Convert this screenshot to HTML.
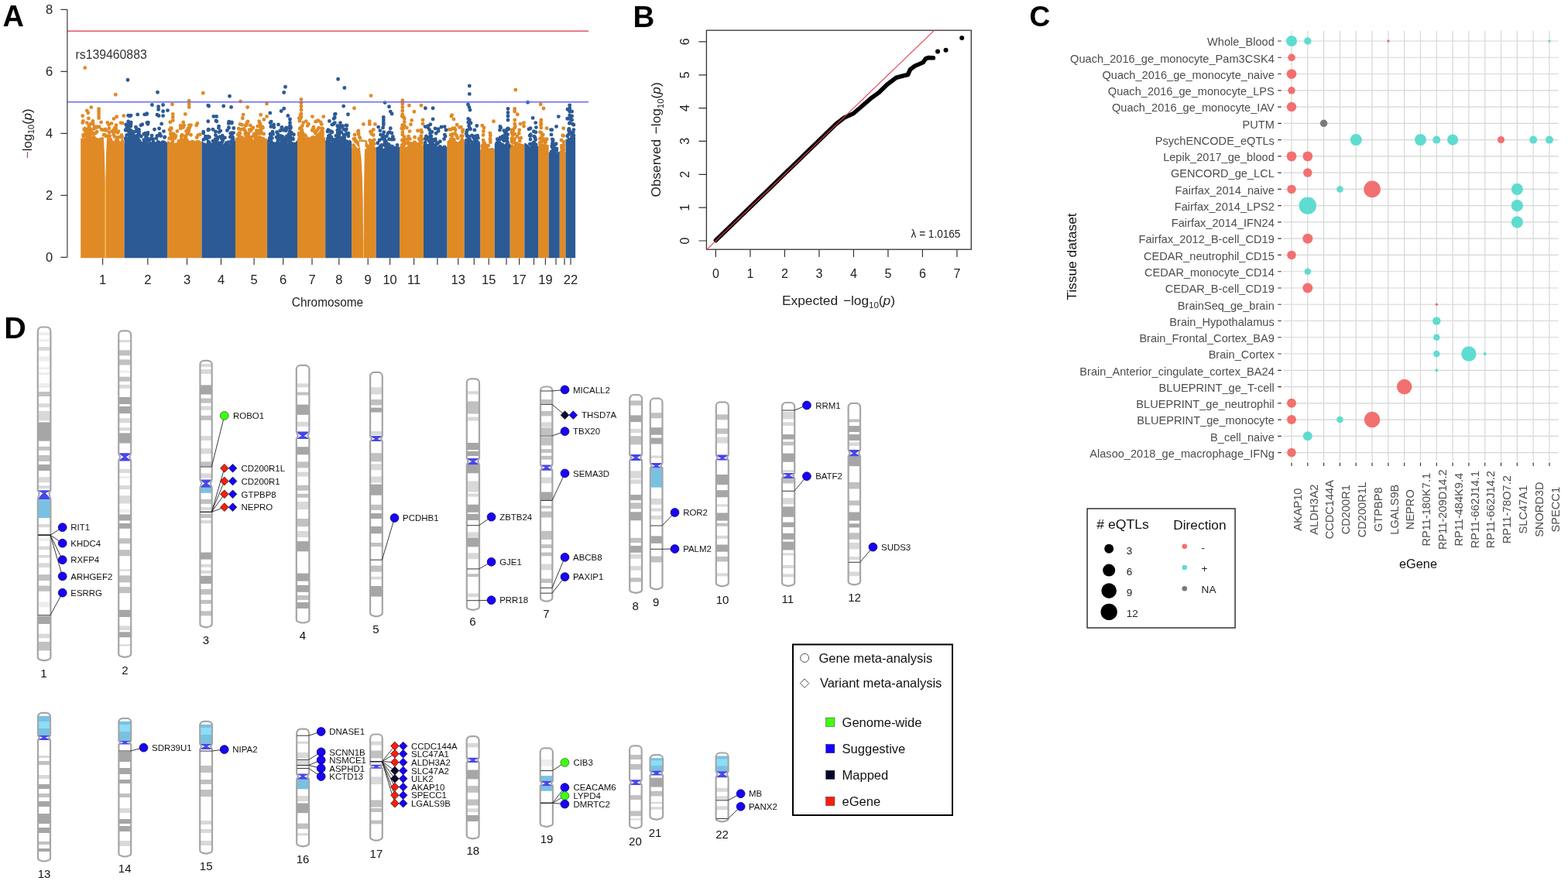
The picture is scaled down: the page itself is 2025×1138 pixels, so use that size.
<!DOCTYPE html>
<html><head><meta charset="utf-8"><style>
html,body{margin:0;padding:0;background:#fff;}
svg{display:block;}
text{font-family:"Liberation Sans",Arial,sans-serif;}
</style></head><body>
<svg width="2025" height="1138" viewBox="0 0 2025 1138">
<rect width="2025" height="1138" fill="#fff"/>
<path d="M104.2 333.3 L104.2 178.9 L106.8 177.9 L109.3 180.9 L111.9 177.4 L114.4 180.2 L117.0 179.2 L119.6 177.3 L122.1 180.0 L124.7 177.2 L127.2 179.6 L129.8 177.4 L132.3 177.5 L134.9 179.5 L137.5 182.0 L140.0 177.7 L142.6 178.3 L145.1 180.8 L147.7 182.7 L150.3 180.5 L152.8 179.4 L155.4 182.9 L157.9 177.3 L160.5 182.2 L160.5 333.3Z M216.1 333.3 L216.1 180.9 L218.7 183.1 L221.3 184.1 L223.9 185.6 L226.5 184.3 L229.2 183.9 L231.8 184.6 L234.4 182.7 L237.0 183.3 L239.6 180.2 L242.2 184.7 L244.8 181.4 L247.4 185.5 L250.1 183.9 L252.7 181.8 L255.3 180.8 L257.9 181.5 L260.5 183.8 L260.5 333.3Z M304.0 333.3 L304.0 178.4 L306.6 176.8 L309.1 176.3 L311.7 178.7 L314.3 175.5 L316.8 180.5 L319.4 175.9 L322.0 175.2 L324.6 175.6 L327.1 180.6 L329.7 177.1 L332.3 175.9 L334.8 175.2 L337.4 175.2 L340.0 179.2 L342.5 178.8 L345.1 179.2 L345.1 333.3Z M384.0 333.3 L384.0 178.8 L386.6 173.7 L389.2 178.7 L391.8 174.0 L394.3 177.8 L396.9 175.9 L399.5 177.7 L402.1 175.7 L404.7 174.6 L407.3 177.5 L409.9 175.0 L412.4 174.7 L415.0 176.7 L417.6 176.9 L420.2 177.8 L420.2 333.3Z M454.1 333.3 L454.1 190.1 L456.7 192.0 L459.4 189.1 L462.0 191.6 L464.6 190.1 L467.2 192.9 L469.9 191.1 L472.5 192.6 L475.1 189.5 L477.7 191.0 L480.4 187.8 L483.0 188.2 L485.6 190.7 L485.6 333.3Z M516.0 333.3 L516.0 189.6 L518.6 188.1 L521.2 184.9 L523.8 189.9 L526.3 189.0 L528.9 186.4 L531.5 185.2 L534.1 188.1 L536.7 184.1 L539.2 186.9 L541.8 184.3 L544.4 189.4 L547.0 185.8 L547.0 333.3Z M577.4 333.3 L577.4 182.5 L580.2 180.3 L583.0 183.8 L585.7 182.0 L588.5 183.0 L591.3 183.6 L594.0 181.5 L596.8 182.8 L599.6 180.1 L599.6 333.3Z M620.1 333.3 L620.1 193.4 L622.8 196.0 L625.4 190.4 L628.1 194.5 L630.8 192.2 L633.5 191.2 L636.1 191.0 L638.8 192.2 L638.8 333.3Z M658.6 333.3 L658.6 185.7 L661.3 187.9 L663.9 188.2 L666.6 185.2 L669.3 184.9 L672.0 185.1 L674.6 186.0 L677.3 186.4 L677.3 333.3Z M695.1 333.3 L695.1 186.0 L697.8 190.0 L700.5 185.1 L703.3 189.3 L706.0 186.4 L708.7 187.2 L708.7 333.3Z M722.7 333.3 L722.7 194.4 L725.3 195.0 L727.9 194.0 L730.5 197.2 L730.5 333.3Z" fill="#E08A25"/>
<path d="M160.5 333.3 L160.5 184.5 L163.0 183.9 L165.6 180.6 L168.1 179.9 L170.6 184.5 L173.1 182.4 L175.7 183.2 L178.2 179.5 L180.7 179.3 L183.2 183.1 L185.8 181.6 L188.3 179.4 L190.8 184.6 L193.4 182.8 L195.9 183.8 L198.4 179.5 L200.9 184.1 L203.5 179.4 L206.0 184.2 L208.5 181.7 L211.0 181.0 L213.6 182.3 L216.1 184.6 L216.1 333.3Z M260.5 333.3 L260.5 181.1 L263.1 184.3 L265.6 184.8 L268.2 186.5 L270.7 181.5 L273.3 184.7 L275.9 183.2 L278.4 184.0 L281.0 181.9 L283.5 182.7 L286.1 184.1 L288.6 186.6 L291.2 181.7 L293.8 183.9 L296.3 185.8 L298.9 186.8 L301.4 182.2 L304.0 181.8 L304.0 333.3Z M345.1 333.3 L345.1 181.5 L347.7 185.0 L350.3 183.6 L352.9 182.9 L355.5 183.7 L358.1 181.8 L360.7 183.7 L363.3 180.4 L365.8 183.2 L368.4 183.1 L371.0 184.9 L373.6 183.1 L376.2 181.9 L378.8 183.8 L381.4 183.8 L384.0 181.1 L384.0 333.3Z M420.2 333.3 L420.2 180.8 L422.8 184.9 L425.4 179.1 L428.0 183.8 L430.6 181.0 L433.2 179.8 L435.8 179.0 L438.5 184.0 L441.1 182.2 L443.7 180.1 L446.3 181.6 L448.9 184.5 L451.5 180.3 L454.1 182.4 L454.1 333.3Z M485.6 333.3 L485.6 192.3 L488.1 189.4 L490.7 189.2 L493.2 189.0 L495.7 192.2 L498.3 189.0 L500.8 190.9 L503.3 192.8 L505.9 189.5 L508.4 192.5 L510.9 190.3 L513.5 189.3 L516.0 189.8 L516.0 333.3Z M547.0 333.3 L547.0 185.7 L549.5 185.8 L552.1 190.5 L554.6 185.5 L557.1 190.9 L559.7 186.2 L562.2 185.7 L564.7 189.4 L567.3 187.1 L569.8 187.2 L572.3 190.0 L574.9 189.8 L577.4 189.4 L577.4 333.3Z M599.6 333.3 L599.6 180.7 L602.2 185.8 L604.7 180.1 L607.3 185.5 L609.9 180.9 L612.4 184.4 L615.0 180.6 L617.5 181.0 L620.1 184.1 L620.1 333.3Z M638.8 333.3 L638.8 185.3 L641.6 184.5 L644.5 188.9 L647.3 184.6 L650.1 184.5 L652.9 188.5 L655.8 187.4 L658.6 184.3 L658.6 333.3Z M677.3 333.3 L677.3 184.4 L679.8 185.5 L682.4 187.6 L684.9 189.9 L687.5 184.2 L690.0 187.7 L692.6 188.2 L695.1 188.9 L695.1 333.3Z M708.7 333.3 L708.7 196.8 L711.5 196.1 L714.3 194.3 L717.1 197.8 L719.9 196.3 L722.7 196.1 L722.7 333.3Z M730.5 333.3 L730.5 179.2 L733.0 180.4 L735.5 182.3 L738.1 177.5 L740.6 177.1 L743.1 180.1 L743.1 333.3Z" fill="#2C5A95"/>
<path d="M112.1 174.6h0M146.7 174.1h0M125.2 170.2h0M121.6 166.3h0M141.1 170.9h0M112.5 173.3h0M114.3 174.5h0M112.3 178.7h0M151.8 171.4h0M137.2 176.0h0M150.0 181.3h0M140.9 165.7h0M140.0 181.9h0M121.2 172.8h0M107.6 174.1h0M112.8 170.9h0M127.1 180.9h0M115.0 173.0h0M112.4 179.5h0M120.9 173.3h0M137.3 168.6h0M122.1 163.9h0M115.9 170.8h0M114.8 167.4h0M155.7 177.1h0M130.1 180.2h0M141.7 175.6h0M135.9 166.9h0M109.6 165.9h0M113.7 166.9h0M134.3 181.3h0M110.0 169.3h0M150.0 181.4h0M131.0 167.2h0M157.1 174.4h0M113.3 170.5h0M114.8 164.4h0M133.8 168.0h0M107.8 175.2h0M151.2 177.7h0M116.4 180.8h0M120.1 171.7h0M121.9 179.3h0M144.8 169.7h0M124.9 164.6h0M148.0 176.4h0M115.8 181.4h0M123.5 171.9h0M157.5 176.4h0M116.5 179.2h0M115.7 178.5h0M115.7 179.1h0M135.4 174.1h0M110.8 168.2h0M107.8 176.1h0M140.4 176.5h0M131.0 181.2h0M114.7 178.2h0M112.7 173.6h0M149.3 169.4h0M146.7 171.7h0M149.7 165.7h0M153.0 177.2h0M133.2 179.6h0M113.2 168.1h0M151.7 178.9h0M146.7 168.0h0M113.7 175.6h0M139.7 175.7h0M148.3 165.1h0M137.6 180.8h0M121.5 177.7h0M134.1 174.3h0M142.7 180.3h0M119.9 156.4h0M150.0 161.8h0M138.8 158.5h0M150.7 150.7h0M114.4 152.9h0M113.8 145.8h0M117.8 138.6h0M140.6 161.0h0M158.0 158.9h0M117.3 159.9h0M107.4 156.5h0M120.2 160.2h0M112.3 142.9h0M114.8 162.3h0M112.3 158.6h0M242.7 166.2h0M258.2 173.8h0M221.7 173.1h0M246.5 174.3h0M239.4 183.4h0M221.5 172.7h0M221.0 174.9h0M234.1 175.9h0M220.8 172.3h0M230.8 182.5h0M221.1 173.5h0M222.7 179.7h0M254.2 177.5h0M220.6 179.2h0M220.5 167.4h0M234.9 180.9h0M241.5 181.3h0M255.6 174.7h0M240.0 181.5h0M233.4 184.8h0M243.9 166.3h0M218.6 178.7h0M233.5 181.8h0M240.6 169.5h0M226.1 178.4h0M219.1 167.6h0M235.9 181.8h0M244.0 168.7h0M246.8 183.6h0M219.3 168.1h0M245.9 184.0h0M236.6 181.6h0M243.7 184.2h0M224.2 177.1h0M249.9 183.8h0M223.6 177.6h0M235.1 174.2h0M224.4 172.9h0M236.7 182.0h0M238.8 175.9h0M239.6 178.5h0M239.4 183.4h0M228.9 169.4h0M242.8 171.6h0M239.0 179.6h0M248.2 182.9h0M223.1 182.8h0M241.5 173.4h0M223.6 173.1h0M241.8 173.2h0M242.1 172.8h0M244.4 184.9h0M240.0 176.8h0M220.3 172.9h0M243.3 184.1h0M222.3 176.8h0M234.4 179.2h0M227.0 175.5h0M222.4 185.0h0M233.3 165.9h0M233.1 162.3h0M221.4 165.7h0M237.6 161.8h0M244.9 164.7h0M244.4 161.9h0M220.3 165.6h0M253.6 161.7h0M219.8 157.7h0M239.3 147.4h0M246.5 161.8h0M236.7 164.6h0M338.9 163.8h0M339.8 179.3h0M311.3 167.2h0M334.2 168.9h0M331.7 177.1h0M317.0 169.9h0M327.9 176.0h0M329.0 176.8h0M323.7 168.9h0M335.2 162.7h0M309.8 172.2h0M336.9 164.5h0M312.5 161.2h0M335.9 161.4h0M324.2 177.2h0M316.8 172.9h0M312.0 177.5h0M314.7 166.4h0M334.3 172.5h0M326.8 164.9h0M331.5 171.0h0M331.7 170.5h0M320.4 178.7h0M320.1 178.4h0M320.7 175.6h0M307.4 174.0h0M338.1 171.9h0M318.1 172.1h0M315.6 167.8h0M309.7 172.8h0M336.8 168.2h0M337.0 170.1h0M308.3 179.9h0M336.6 167.1h0M309.0 171.6h0M331.3 168.8h0M323.2 161.9h0M322.2 167.6h0M317.1 162.3h0M320.5 178.0h0M327.8 175.0h0M330.7 175.1h0M329.8 174.0h0M308.5 174.9h0M317.7 174.7h0M319.5 176.0h0M320.8 172.4h0M317.6 178.3h0M318.2 161.8h0M339.5 165.0h0M308.2 166.3h0M340.7 173.0h0M335.5 172.3h0M328.1 173.0h0M320.0 157.0h0M310.7 131.0h0M335.2 158.7h0M334.7 156.6h0M319.1 158.5h0M319.6 138.5h0M314.2 148.1h0M310.0 160.4h0M313.3 152.8h0M336.1 159.7h0M336.7 148.3h0M404.8 177.7h0M386.2 173.6h0M414.7 175.4h0M404.9 164.2h0M410.5 175.0h0M414.9 175.4h0M404.4 166.7h0M411.9 173.6h0M397.2 162.4h0M411.6 165.2h0M415.8 165.9h0M407.7 170.1h0M409.2 168.7h0M403.2 168.2h0M386.4 172.0h0M414.3 171.1h0M404.9 164.9h0M414.4 171.9h0M389.9 176.1h0M386.2 172.8h0M391.2 172.2h0M391.3 172.4h0M416.6 170.5h0M394.5 175.0h0M386.3 174.8h0M416.8 166.3h0M415.3 160.5h0M409.3 176.2h0M416.3 176.8h0M389.0 173.9h0M407.1 171.7h0M416.6 173.4h0M387.2 165.9h0M391.7 177.2h0M388.1 171.5h0M404.3 166.4h0M409.7 174.7h0M389.4 167.5h0M413.5 172.2h0M389.6 167.6h0M404.3 168.6h0M386.6 173.5h0M414.7 175.2h0M415.6 168.5h0M411.0 177.4h0M398.4 160.3h0M410.2 167.6h0M404.8 165.6h0M386.2 152.6h0M413.9 157.6h0M410.7 155.7h0M387.6 153.7h0M391.8 158.5h0M407.5 157.1h0M395.3 156.6h0M408.4 156.8h0M386.9 156.3h0M388.0 148.6h0M483.3 180.6h0M473.4 187.9h0M463.0 173.4h0M472.2 184.7h0M471.8 183.3h0M480.0 186.4h0M479.3 182.2h0M478.6 187.0h0M478.8 185.3h0M468.1 182.6h0M459.5 181.6h0M479.0 191.4h0M482.2 174.5h0M477.6 181.2h0M464.8 186.6h0M478.7 186.2h0M464.5 187.5h0M459.0 182.6h0M481.6 184.5h0M456.4 187.7h0M458.8 182.3h0M464.4 177.1h0M475.0 189.5h0M480.4 183.4h0M457.3 189.5h0M478.8 185.7h0M464.0 187.7h0M463.0 173.4h0M465.6 186.1h0M461.6 184.7h0M463.5 187.0h0M483.3 185.9h0M464.7 184.9h0M465.0 178.5h0M478.6 186.5h0M458.0 173.9h0M465.0 188.0h0M481.0 190.1h0M458.0 179.0h0M456.8 179.6h0M464.1 183.7h0M463.1 172.6h0M479.5 170.0h0M478.4 170.1h0M482.3 167.5h0M462.9 169.0h0M462.3 170.0h0M469.4 160.4h0M479.8 172.9h0M544.1 178.0h0M519.4 181.2h0M531.1 185.5h0M544.8 180.6h0M544.8 170.7h0M535.3 183.7h0M535.6 177.2h0M526.3 179.9h0M543.7 175.8h0M540.7 188.0h0M543.9 175.8h0M526.7 179.4h0M528.0 186.7h0M519.8 174.0h0M542.7 189.0h0M522.4 181.7h0M543.5 183.3h0M522.0 176.7h0M522.7 180.7h0M544.2 170.3h0M541.0 186.1h0M544.4 185.0h0M519.9 170.7h0M522.9 185.2h0M521.2 180.7h0M527.5 176.1h0M542.6 182.3h0M522.3 180.0h0M520.4 186.4h0M527.0 184.2h0M529.4 179.4h0M521.8 187.2h0M535.1 186.9h0M522.2 184.7h0M541.1 179.3h0M521.3 179.9h0M527.2 185.5h0M543.8 184.0h0M543.8 181.0h0M536.7 185.3h0M533.3 187.0h0M539.5 168.8h0M531.7 155.4h0M534.9 144.2h0M530.4 160.7h0M543.9 168.3h0M520.7 166.3h0M529.0 169.6h0M525.4 165.1h0M596.8 181.0h0M582.4 167.2h0M597.4 182.5h0M596.8 180.5h0M582.3 184.8h0M583.7 179.6h0M588.1 167.7h0M591.2 178.5h0M589.6 175.3h0M584.5 173.3h0M581.4 182.4h0M582.3 179.7h0M597.4 170.4h0M583.2 181.9h0M596.7 175.4h0M597.4 182.0h0M585.8 180.9h0M587.8 172.4h0M595.6 175.8h0M597.4 168.8h0M586.8 183.2h0M597.4 175.6h0M586.3 180.2h0M580.1 167.3h0M583.9 175.2h0M589.0 184.9h0M596.5 182.1h0M596.2 181.8h0M582.0 174.2h0M593.5 164.6h0M590.2 161.2h0M595.3 164.1h0M586.0 153.9h0M582.8 150.0h0M584.9 165.8h0M624.8 194.3h0M631.6 193.8h0M623.4 192.7h0M624.1 181.1h0M630.7 188.1h0M633.4 183.7h0M623.9 187.3h0M633.2 181.0h0M627.5 188.0h0M623.0 188.1h0M625.9 188.6h0M625.1 191.1h0M624.6 183.3h0M625.9 193.1h0M625.3 194.4h0M626.2 185.6h0M623.4 194.6h0M623.6 189.0h0M625.0 194.6h0M627.6 190.3h0M633.0 179.2h0M622.8 193.7h0M622.7 189.2h0M628.9 192.8h0M624.1 174.4h0M622.8 162.1h0M632.9 171.9h0M624.4 169.5h0M633.3 175.0h0M663.8 184.1h0M661.8 181.5h0M668.0 176.2h0M663.9 183.3h0M662.1 174.8h0M660.8 183.0h0M660.8 179.0h0M670.2 172.3h0M664.6 179.4h0M665.9 186.4h0M667.3 185.5h0M660.8 171.8h0M662.2 184.0h0M665.0 173.1h0M671.3 179.3h0M662.1 170.5h0M672.8 178.2h0M661.6 181.6h0M662.5 181.2h0M660.8 181.8h0M660.8 188.8h0M671.2 182.3h0M662.8 171.0h0M667.8 186.1h0M670.7 167.9h0M663.0 167.5h0M665.3 163.3h0M660.8 167.9h0M672.0 160.1h0M700.8 187.6h0M700.1 188.4h0M698.0 187.4h0M700.1 178.5h0M704.6 183.4h0M706.2 179.8h0M701.3 173.9h0M699.0 188.8h0M704.2 184.3h0M697.3 184.3h0M697.3 179.3h0M703.1 179.6h0M703.5 187.7h0M700.6 188.7h0M700.5 182.6h0M699.1 171.8h0M697.3 170.6h0M699.8 175.9h0M702.0 140.0h0M698.5 158.1h0M698.5 161.6h0M726.3 196.0h0M728.1 186.9h0M725.3 190.9h0M725.3 188.1h0M725.8 194.9h0M727.8 183.1h0M727.5 189.7h0M728.0 193.4h0M727.1 195.4h0M724.9 180.9h0M727.7 175.4h0M726.7 175.0h0M387.5 177.0h0M390.4 162.5h0M388.5 165.1h0M387.7 180.0h0M389.6 171.0h0M389.5 176.3h0M390.0 168.2h0M116.0 166.3h0M113.4 172.5h0M113.4 172.8h0M116.2 166.0h0M115.7 170.5h0M111.4 167.5h0M109.6 166.7h0M116.5 174.1h0M111.4 167.2h0M109.2 174.7h0M110.1 167.0h0M114.6 170.7h0M117.2 183.7h0M113.2 180.8h0M114.3 178.3h0M110.2 180.3h0M116.9 179.6h0M112.3 168.2h0M117.5 177.6h0M114.1 169.2h0M117.5 171.4h0M111.9 172.5h0M117.6 167.7h0M116.7 178.2h0M114.2 178.5h0M115.4 168.7h0M108.7 167.3h0M111.9 167.5h0M115.3 176.2h0M108.7 167.4h0M113.6 179.7h0M114.5 175.7h0M116.8 183.5h0M112.5 183.1h0M110.5 173.5h0M115.0 169.3h0M117.9 182.7h0M116.6 174.8h0M521.3 151.3h0M520.4 187.2h0M520.8 185.8h0M519.2 187.5h0M519.3 150.3h0M518.8 165.9h0M519.6 161.8h0M109.7 87.6h0M149.3 122.2h0M106.7 149.6h0M106.7 158.6h0M127.6 140.7h0M127.6 143.5h0M127.6 146.5h0M127.6 149.5h0M127.6 152.6h0M130.6 157.9h0M125.0 163.8h0M128.0 163.8h0M147.0 153.4h0M144.0 159.4h0M156.0 158.6h0M159.8 149.6h0M153.0 169.8h0M222.5 134.7h0M244.2 130.2h0M244.2 134.5h0M244.2 138.4h0M223.3 147.4h0M223.3 151.5h0M223.3 155.6h0M236.7 157.9h0M262.3 120.2h0M254.9 159.4h0M344.6 150.4h0M340.9 154.4h0M317.7 160.9h0M325.2 166.8h0M332.6 163.1h0M337.9 172.0h0M344.5 134.0h0M389.0 128.5h0M389.0 133.0h0M389.0 137.5h0M389.0 142.0h0M389.0 147.0h0M389.0 151.0h0M403.4 150.6h0M417.8 150.6h0M457.5 139.8h0M479.1 123.6h0M477.3 156.8h0M477.3 160.4h0M484.5 160.4h0M519.8 129.7h0M519.8 134.0h0M519.8 138.5h0M519.8 143.0h0M519.8 147.7h0M528.5 136.2h0M544.0 136.2h0M522.3 153.2h0M522.3 157.5h0M522.3 162.2h0M546.0 155.0h0M546.0 160.0h0M583.6 148.8h0M587.2 165.8h0M598.0 167.6h0M625.0 165.0h0M637.5 156.8h0M665.8 116.0h0M664.7 140.5h0M664.7 144.0h0M668.3 147.7h0M664.7 155.0h0M664.7 160.0h0M664.7 165.0h0M676.5 158.6h0M676.5 163.0h0M698.2 134.8h0M698.9 155.0h0M698.9 160.0h0M698.9 165.0h0M706.1 165.8h0M727.7 165.8h0" stroke="#E08A25" stroke-width="4.9" stroke-linecap="round" fill="none"/>
<path d="M190.4 178.7h0M173.2 175.8h0M176.6 181.3h0M164.6 166.2h0M212.8 176.9h0M176.7 175.6h0M205.4 174.9h0M197.9 183.8h0M166.6 182.4h0M169.9 183.9h0M205.6 166.0h0M207.7 175.5h0M172.3 179.4h0M167.0 179.7h0M169.9 172.5h0M212.5 177.5h0M190.9 171.5h0M188.6 176.7h0M169.1 180.9h0M166.2 167.1h0M190.4 178.7h0M168.6 182.6h0M193.2 180.7h0M188.0 172.9h0M170.1 181.6h0M189.0 175.5h0M188.6 182.8h0M191.8 181.4h0M170.2 178.0h0M197.7 179.7h0M178.1 183.5h0M175.3 177.6h0M194.8 179.5h0M162.9 181.2h0M188.5 177.3h0M166.1 180.3h0M176.9 180.6h0M170.0 183.7h0M182.3 176.3h0M202.0 178.6h0M166.7 170.0h0M170.2 169.6h0M187.6 183.6h0M167.5 179.4h0M167.8 180.8h0M190.8 173.4h0M176.2 166.1h0M204.7 183.6h0M187.5 183.1h0M178.2 169.8h0M211.5 169.6h0M188.7 182.5h0M174.5 182.6h0M164.0 165.4h0M185.8 173.2h0M189.2 173.8h0M190.2 181.8h0M168.5 173.0h0M172.1 174.8h0M166.6 183.0h0M206.4 172.8h0M170.2 172.2h0M171.1 173.5h0M202.9 175.5h0M163.1 183.2h0M199.5 167.3h0M185.8 180.6h0M177.4 167.3h0M169.2 176.2h0M187.6 172.3h0M196.1 175.1h0M173.6 170.4h0M168.7 176.7h0M190.9 160.2h0M164.4 163.3h0M189.9 158.5h0M189.6 147.5h0M183.8 160.7h0M182.0 161.7h0M191.4 158.2h0M169.0 149.1h0M189.6 146.8h0M167.8 149.9h0M163.8 164.7h0M208.6 159.9h0M162.7 161.0h0M205.0 149.5h0M175.4 164.1h0M287.0 183.6h0M299.7 173.1h0M284.8 169.1h0M268.8 176.3h0M276.6 183.5h0M300.1 181.3h0M263.0 180.3h0M287.2 175.3h0M299.1 176.4h0M269.7 167.4h0M280.9 177.8h0M294.7 183.8h0M278.4 169.9h0M282.9 170.6h0M298.9 171.6h0M275.0 182.1h0M298.8 184.6h0M293.4 168.5h0M298.8 173.0h0M281.9 185.4h0M269.2 183.1h0M265.3 176.1h0M268.9 184.6h0M262.7 171.9h0M298.7 173.3h0M299.2 173.1h0M279.1 185.1h0M297.7 172.5h0M267.2 179.2h0M276.8 184.3h0M285.4 184.4h0M298.2 183.2h0M280.6 179.9h0M299.0 182.4h0M299.4 174.3h0M301.2 180.1h0M274.9 167.2h0M300.6 177.3h0M301.5 171.6h0M278.2 179.8h0M299.2 176.2h0M298.9 176.4h0M268.9 168.0h0M290.4 177.9h0M301.7 184.3h0M278.4 174.5h0M279.0 180.2h0M286.2 179.0h0M269.2 167.1h0M297.3 177.1h0M300.3 180.5h0M270.4 177.2h0M287.8 181.0h0M298.8 172.6h0M278.6 182.2h0M283.8 176.6h0M262.7 170.3h0M269.6 137.0h0M279.0 155.9h0M295.8 157.1h0M299.4 157.9h0M298.6 138.4h0M301.8 165.5h0M295.6 165.2h0M282.4 165.3h0M299.3 159.0h0M288.7 137.0h0M295.5 157.4h0M279.8 156.7h0M352.6 173.2h0M372.5 181.6h0M374.3 169.8h0M369.1 166.0h0M369.4 168.8h0M357.5 170.8h0M374.4 171.3h0M351.4 178.4h0M370.4 182.6h0M376.2 171.1h0M365.6 180.4h0M372.3 177.6h0M359.0 177.6h0M378.5 179.8h0M357.0 177.3h0M347.5 181.8h0M366.7 179.3h0M360.2 175.3h0M349.9 178.9h0M348.3 178.4h0M379.4 173.8h0M364.9 176.4h0M348.5 180.1h0M359.0 182.1h0M369.1 182.8h0M362.4 175.4h0M375.8 173.0h0M361.2 176.8h0M349.6 176.6h0M359.0 173.5h0M350.6 184.0h0M350.0 182.5h0M349.0 173.2h0M358.9 180.8h0M348.8 182.8h0M368.6 178.7h0M367.9 179.5h0M368.3 179.3h0M361.8 168.8h0M347.8 182.3h0M363.5 177.7h0M364.2 166.2h0M367.3 182.8h0M365.3 181.6h0M361.8 179.7h0M370.3 166.0h0M352.0 170.2h0M366.2 168.3h0M378.2 178.7h0M369.9 179.6h0M370.1 176.2h0M350.7 162.8h0M353.8 164.6h0M371.9 149.5h0M350.2 157.1h0M363.2 143.5h0M369.9 164.9h0M375.5 164.3h0M349.9 163.5h0M364.1 164.5h0M349.9 163.5h0M427.6 180.3h0M427.6 169.7h0M440.9 171.0h0M423.9 167.8h0M434.4 180.1h0M444.0 182.2h0M422.9 182.8h0M448.1 172.5h0M447.4 166.9h0M439.4 182.1h0M444.0 174.2h0M445.1 181.0h0M439.4 182.6h0M427.8 176.9h0M438.3 166.3h0M429.0 170.8h0M444.8 177.6h0M423.0 183.0h0M430.1 181.8h0M436.1 172.0h0M446.6 167.2h0M442.0 178.1h0M425.6 169.3h0M438.4 171.7h0M443.5 181.6h0M433.9 175.4h0M437.9 174.9h0M445.3 173.9h0M444.5 180.0h0M439.1 183.8h0M443.7 177.0h0M450.0 172.2h0M426.0 174.4h0M424.4 175.6h0M423.0 169.8h0M445.3 183.2h0M446.3 182.4h0M423.4 178.9h0M443.6 166.8h0M424.6 177.0h0M426.1 179.0h0M446.3 168.4h0M449.9 175.7h0M448.5 182.9h0M430.5 180.3h0M430.9 160.2h0M428.9 161.1h0M433.2 147.2h0M442.4 162.8h0M443.7 137.1h0M446.9 161.9h0M448.0 162.3h0M431.1 153.2h0M425.4 156.4h0M494.1 177.6h0M500.2 185.6h0M508.5 180.0h0M498.9 191.4h0M487.8 184.8h0M487.8 192.0h0M499.2 191.9h0M498.3 184.9h0M493.9 187.5h0M494.8 174.6h0M491.6 174.0h0M505.9 188.9h0M496.9 187.2h0M495.7 179.0h0M490.1 181.0h0M498.2 182.2h0M499.9 186.7h0M510.2 191.2h0M492.9 187.5h0M496.9 183.2h0M506.0 180.2h0M497.0 186.7h0M496.5 179.6h0M498.3 186.4h0M496.7 178.2h0M502.2 186.7h0M502.5 179.7h0M501.3 191.0h0M502.8 191.1h0M497.1 186.1h0M513.1 187.5h0M493.4 179.4h0M507.3 176.4h0M498.0 188.5h0M495.1 176.5h0M498.8 191.1h0M507.0 189.7h0M499.6 175.5h0M498.9 184.9h0M491.1 188.7h0M495.3 160.9h0M495.7 170.7h0M494.6 164.9h0M488.7 164.1h0M501.1 171.9h0M505.9 171.9h0M503.1 170.8h0M490.9 168.6h0M558.5 182.5h0M558.4 180.2h0M552.1 178.0h0M563.2 172.3h0M560.6 187.1h0M551.1 178.4h0M556.7 187.8h0M555.7 190.0h0M556.2 181.8h0M554.4 182.5h0M550.0 187.8h0M564.4 185.7h0M552.9 188.3h0M551.2 179.7h0M555.4 176.5h0M562.3 179.8h0M573.6 179.5h0M562.4 182.0h0M550.4 175.9h0M556.3 178.7h0M556.0 183.8h0M574.1 189.9h0M549.5 188.3h0M565.7 184.8h0M555.6 187.2h0M549.2 179.3h0M568.4 182.8h0M558.3 183.5h0M549.2 188.4h0M562.3 188.6h0M575.1 176.1h0M560.7 181.1h0M556.9 175.9h0M555.8 183.8h0M574.3 174.1h0M549.2 184.1h0M556.5 186.9h0M549.2 187.8h0M555.6 172.4h0M556.3 177.9h0M549.2 163.6h0M566.1 169.2h0M574.2 163.6h0M555.8 160.8h0M552.7 162.8h0M554.7 167.8h0M566.1 166.8h0M558.0 170.5h0M613.3 183.4h0M602.3 172.9h0M612.9 167.9h0M605.5 176.5h0M603.3 168.3h0M602.8 170.1h0M617.4 178.1h0M602.8 181.4h0M603.6 175.2h0M616.6 175.1h0M602.4 181.3h0M604.1 184.5h0M603.2 176.1h0M607.6 166.8h0M612.3 178.4h0M612.9 184.8h0M613.4 176.0h0M606.7 181.7h0M614.7 183.6h0M605.6 177.7h0M613.0 181.2h0M615.1 180.3h0M603.6 183.8h0M606.6 180.3h0M611.1 177.3h0M609.4 175.0h0M607.9 182.6h0M615.8 162.5h0M605.9 158.4h0M607.0 158.1h0M605.4 158.4h0M608.0 158.9h0M641.8 184.7h0M654.0 187.3h0M652.0 175.9h0M643.9 182.3h0M642.3 179.7h0M645.6 179.9h0M651.5 178.3h0M652.9 177.3h0M649.1 176.3h0M655.4 184.1h0M643.2 188.1h0M653.5 172.4h0M650.8 180.2h0M646.0 177.7h0M645.5 185.0h0M650.1 180.9h0M647.9 187.3h0M652.5 174.7h0M653.5 181.6h0M651.0 181.7h0M651.4 178.1h0M653.3 176.3h0M653.9 176.2h0M649.9 177.4h0M651.6 175.1h0M652.5 172.1h0M645.5 167.9h0M645.9 163.4h0M650.9 168.7h0M656.1 166.0h0M654.3 168.6h0M691.8 170.8h0M685.0 180.1h0M685.0 175.4h0M689.8 176.2h0M688.7 184.9h0M685.3 186.1h0M686.2 186.0h0M689.6 183.8h0M685.3 173.6h0M684.2 175.3h0M688.5 185.5h0M688.6 187.7h0M690.7 186.3h0M685.3 186.6h0M691.2 178.2h0M686.6 188.3h0M690.5 177.0h0M687.0 187.3h0M692.0 187.5h0M688.0 186.2h0M692.1 186.6h0M684.3 186.1h0M691.6 180.5h0M692.4 164.6h0M685.1 165.8h0M683.0 166.7h0M689.3 169.7h0M718.8 194.2h0M714.2 180.7h0M715.7 192.5h0M716.5 196.6h0M714.4 192.7h0M712.7 188.7h0M713.4 187.3h0M712.2 195.8h0M718.9 191.9h0M713.9 183.1h0M715.4 190.6h0M718.1 185.7h0M713.2 190.2h0M713.3 180.0h0M716.3 187.2h0M713.4 185.1h0M715.7 193.6h0M714.9 194.4h0M712.7 167.7h0M712.0 173.9h0M718.5 163.4h0M740.2 170.7h0M740.2 176.1h0M733.0 175.3h0M736.7 171.1h0M740.6 175.2h0M732.9 175.9h0M734.5 168.6h0M734.9 172.6h0M734.9 166.5h0M740.9 174.9h0M734.6 180.2h0M739.3 181.5h0M740.9 167.6h0M738.3 177.9h0M735.5 168.9h0M740.9 178.7h0M732.7 153.3h0M740.9 161.2h0M739.6 160.2h0M168.3 158.7h0M167.9 175.8h0M162.1 168.3h0M165.3 182.2h0M167.1 179.7h0M166.3 174.2h0M167.0 174.4h0M164.5 168.3h0M162.8 179.4h0M167.5 170.2h0M162.2 178.7h0M168.2 167.9h0M168.9 168.6h0M169.1 172.1h0M162.7 167.8h0M164.5 184.0h0M169.8 182.6h0M166.2 165.3h0M165.1 168.3h0M167.3 185.2h0M163.5 166.1h0M168.5 173.1h0M168.2 179.0h0M163.3 184.0h0M165.5 162.0h0M162.9 179.1h0M166.3 158.8h0M168.5 186.2h0M162.7 180.6h0M163.6 174.6h0M169.3 182.9h0M164.7 174.2h0M165.7 180.3h0M169.2 158.2h0M163.6 168.3h0M169.0 160.8h0M169.0 185.4h0M165.5 174.6h0M169.4 177.9h0M169.3 180.1h0M166.6 178.9h0M168.9 162.9h0M167.2 183.0h0M169.9 178.8h0M165.8 183.5h0M166.8 161.4h0M166.0 169.1h0M167.6 181.2h0M169.1 158.1h0M166.5 179.6h0M163.8 179.4h0M178.6 171.1h0M179.6 170.2h0M176.0 175.8h0M177.6 185.8h0M179.8 182.3h0M176.2 177.7h0M178.3 174.7h0M176.2 175.8h0M177.9 186.1h0M179.0 184.5h0M176.4 169.0h0M178.1 178.9h0M177.3 176.7h0M179.8 174.0h0M179.5 167.5h0M176.1 179.6h0M372.3 175.2h0M374.5 181.4h0M374.1 179.1h0M374.6 176.6h0M373.8 178.1h0M374.2 165.6h0M372.7 173.7h0M375.3 165.6h0M374.8 179.9h0M374.7 186.5h0M374.5 162.3h0M374.1 178.3h0M435.9 168.0h0M439.9 186.6h0M435.9 168.8h0M437.0 169.4h0M438.0 176.4h0M437.2 166.8h0M435.9 163.1h0M438.9 181.2h0M436.6 171.6h0M440.4 185.1h0M438.4 167.3h0M439.3 180.8h0M435.9 162.5h0M435.8 180.2h0M438.9 165.4h0M440.1 182.0h0M435.8 177.5h0M437.0 168.4h0M605.5 157.8h0M605.7 179.8h0M604.8 157.9h0M605.6 162.8h0M606.4 182.1h0M604.7 153.4h0M736.8 173.2h0M735.4 159.2h0M734.6 166.8h0M737.0 152.0h0M735.3 153.1h0M736.3 152.2h0M735.4 159.4h0M657.3 189.4h0M655.6 173.7h0M655.0 166.8h0M656.7 166.8h0M655.0 178.5h0M657.1 188.4h0M655.0 182.4h0M165.0 103.3h0M203.5 119.3h0M196.4 135.5h0M210.6 135.5h0M204.6 137.7h0M204.6 141.4h0M165.7 149.3h0M177.7 147.9h0M186.7 147.9h0M203.0 148.2h0M210.6 143.7h0M210.6 149.6h0M216.5 142.6h0M165.7 157.0h0M268.8 136.2h0M275.9 150.4h0M279.6 150.4h0M268.8 156.8h0M296.5 124.2h0M282.6 163.1h0M295.3 159.4h0M295.3 164.6h0M348.8 145.9h0M368.5 112.3h0M366.7 119.5h0M366.7 140.2h0M374.5 154.0h0M374.5 158.5h0M374.5 163.0h0M349.0 158.6h0M353.6 160.9h0M359.5 160.9h0M363.7 164.6h0M436.6 102.3h0M444.9 113.5h0M432.3 147.7h0M432.3 152.0h0M432.3 158.6h0M449.5 147.7h0M439.5 158.6h0M439.5 163.0h0M497.1 132.6h0M502.5 137.7h0M504.3 144.1h0M506.1 147.0h0M495.3 151.4h0M495.3 155.0h0M495.3 158.6h0M504.3 165.8h0M549.4 139.8h0M559.1 139.8h0M559.1 153.9h0M553.0 165.0h0M562.0 166.0h0M570.0 164.0h0M576.0 168.0h0M606.3 111.0h0M606.3 121.4h0M604.5 135.0h0M606.0 138.5h0M607.0 142.0h0M606.3 155.0h0M606.3 160.0h0M606.3 165.0h0M646.7 165.0h0M656.0 140.5h0M656.0 145.5h0M656.0 150.0h0M656.0 155.0h0M681.6 132.3h0M688.1 152.4h0M691.7 158.6h0M721.3 150.6h0M711.5 167.6h0M733.0 141.3h0M735.7 135.9h0M735.7 140.0h0M735.7 144.0h0M735.7 149.0h0M735.7 153.5h0M735.7 158.6h0M738.6 144.0h0M738.6 150.0h0M738.6 155.0h0" stroke="#2C5A95" stroke-width="4.9" stroke-linecap="round" fill="none"/>
<path d="M133.9 178L138 178L137 200L136.8 214L136.4 234L135.8 234L135.3 214L135 200Z" fill="#fff"/>
<rect x="135.5" y="234" width="1.3" height="99.3" fill="#F3C860"/>
<path d="M463.8 183L471.6 183L470.8 200L470.2 230L469.9 260L469.7 311L469.1 311L468.7 260L467.9 230L466.6 205Z" fill="#fff"/>
<rect x="469" y="311" width="0.9" height="22.3" fill="#F3C860"/>
<line x1="87" y1="40.1" x2="760" y2="40.1" stroke="#D8343F" stroke-width="1.4"/>
<line x1="87" y1="131.8" x2="760" y2="131.8" stroke="#6A6AF8" stroke-width="1.6"/>
<path d="M86.9 12.3V332.3 M78.4 12.3H86.9 M78.4 92.3H86.9 M78.4 172.3H86.9 M78.4 252.3H86.9 M78.4 332.3H86.9" stroke="#3a3a3a" stroke-width="1.2" fill="none"/>
<text x="63.5" y="338.3" font-size="16.5" text-anchor="middle" fill="#222">0</text>
<text x="63.5" y="258.3" font-size="16.5" text-anchor="middle" fill="#222">2</text>
<text x="63.5" y="178.3" font-size="16.5" text-anchor="middle" fill="#222">4</text>
<text x="63.5" y="98.3" font-size="16.5" text-anchor="middle" fill="#222">6</text>
<text x="63.5" y="18.3" font-size="16.5" text-anchor="middle" fill="#222">8</text>
<path d="M132.6 333.6V342M190.8 333.6V342M241.5 333.6V342M285.5 333.6V342M328.1 333.6V342M365.7 333.6V342M403.0 333.6V342M437.8 333.6V342M475.2 333.6V342M503.6 333.6V342M534.6 333.6V342M564.9 333.6V342M591.7 333.6V342M612.3 333.6V342M631.2 333.6V342M654.0 333.6V342M670.6 333.6V342M689.5 333.6V342M704.4 333.6V342M718.0 333.6V342M729.0 333.6V342M737.0 333.6V342" stroke="#3a3a3a" stroke-width="1.2"/>
<text x="132.6" y="367" font-size="16.5" text-anchor="middle" fill="#222">1</text>
<text x="190.8" y="367" font-size="16.5" text-anchor="middle" fill="#222">2</text>
<text x="241.5" y="367" font-size="16.5" text-anchor="middle" fill="#222">3</text>
<text x="285.5" y="367" font-size="16.5" text-anchor="middle" fill="#222">4</text>
<text x="328.1" y="367" font-size="16.5" text-anchor="middle" fill="#222">5</text>
<text x="365.7" y="367" font-size="16.5" text-anchor="middle" fill="#222">6</text>
<text x="403.0" y="367" font-size="16.5" text-anchor="middle" fill="#222">7</text>
<text x="437.8" y="367" font-size="16.5" text-anchor="middle" fill="#222">8</text>
<text x="475.2" y="367" font-size="16.5" text-anchor="middle" fill="#222">9</text>
<text x="503.6" y="367" font-size="16.5" text-anchor="middle" fill="#222">10</text>
<text x="534.6" y="367" font-size="16.5" text-anchor="middle" fill="#222">11</text>
<text x="591.7" y="367" font-size="16.5" text-anchor="middle" fill="#222">13</text>
<text x="631.2" y="367" font-size="16.5" text-anchor="middle" fill="#222">15</text>
<text x="670.6" y="367" font-size="16.5" text-anchor="middle" fill="#222">17</text>
<text x="704.4" y="367" font-size="16.5" text-anchor="middle" fill="#222">19</text>
<text x="737.0" y="367" font-size="16.5" text-anchor="middle" fill="#222">22</text>
<text x="423" y="395.7" font-size="16.6" text-anchor="middle" fill="#222" textLength="92.3" lengthAdjust="spacingAndGlyphs">Chromosome</text>
<text x="97.5" y="76.4" font-size="15.8" fill="#333">rs139460883</text>
<text transform="translate(41.3,172.7) rotate(-90)" font-size="16.6" text-anchor="middle" fill="#222"><tspan fill="#9a4a6a">−</tspan>log<tspan font-size="11" dy="3">10</tspan><tspan dy="-3">(</tspan><tspan font-style="italic">p</tspan>)</text>
<text x="3.5" y="34" font-size="38" font-weight="bold" fill="#000">A</text>
<rect x="912.4" y="39.2" width="341.9" height="283" fill="none" stroke="#333" stroke-width="1.3"/>
<path d="M902.4 311.0H912.4M902.4 268.1H912.4M902.4 225.3H912.4M902.4 182.4H912.4M902.4 139.6H912.4M902.4 96.8H912.4M902.4 53.9H912.4" stroke="#333" stroke-width="1.2"/>
<text transform="translate(889.5,311.0) rotate(-90)" font-size="16" text-anchor="middle" fill="#222">0</text>
<text transform="translate(889.5,268.1) rotate(-90)" font-size="16" text-anchor="middle" fill="#222">1</text>
<text transform="translate(889.5,225.3) rotate(-90)" font-size="16" text-anchor="middle" fill="#222">2</text>
<text transform="translate(889.5,182.4) rotate(-90)" font-size="16" text-anchor="middle" fill="#222">3</text>
<text transform="translate(889.5,139.6) rotate(-90)" font-size="16" text-anchor="middle" fill="#222">4</text>
<text transform="translate(889.5,96.8) rotate(-90)" font-size="16" text-anchor="middle" fill="#222">5</text>
<text transform="translate(889.5,53.9) rotate(-90)" font-size="16" text-anchor="middle" fill="#222">6</text>
<path d="M924.4 322.2V332M968.9 322.2V332M1013.4 322.2V332M1057.9 322.2V332M1102.4 322.2V332M1146.9 322.2V332M1191.4 322.2V332M1235.9 322.2V332" stroke="#333" stroke-width="1.2"/>
<text x="924.4" y="358.5" font-size="16" text-anchor="middle" fill="#222">0</text>
<text x="968.9" y="358.5" font-size="16" text-anchor="middle" fill="#222">1</text>
<text x="1013.4" y="358.5" font-size="16" text-anchor="middle" fill="#222">2</text>
<text x="1057.9" y="358.5" font-size="16" text-anchor="middle" fill="#222">3</text>
<text x="1102.4" y="358.5" font-size="16" text-anchor="middle" fill="#222">4</text>
<text x="1146.9" y="358.5" font-size="16" text-anchor="middle" fill="#222">5</text>
<text x="1191.4" y="358.5" font-size="16" text-anchor="middle" fill="#222">6</text>
<text x="1235.9" y="358.5" font-size="16" text-anchor="middle" fill="#222">7</text>
<polyline points="924.4,310.6 1000.0,237.4 1079.9,159.9 1090.3,152.0 1102.3,146.5 1112.7,137.5 1124.7,127.1 1135.1,119.6 1145.6,109.2 1157.5,100.2 1168.0,97.5 1172.5,96.5 1175.5,89.7 1181.4,85.3 1191.9,80.8 1195.6,75.6 1199.4,74.5 1205.3,74.8" fill="none" stroke="#000" stroke-width="5.6" stroke-linecap="round" stroke-linejoin="round"/>
<circle cx="1211.0" cy="66.6" r="3"/>
<circle cx="1221.5" cy="64.8" r="3"/>
<circle cx="1242.2" cy="49.1" r="3"/>
<line x1="912.4" y1="322.56" x2="1206.67" y2="39.2" stroke="#E0404A" stroke-width="1.1"/>
<text x="1176.6" y="307" font-size="14" fill="#222" textLength="63.8" lengthAdjust="spacingAndGlyphs">λ = 1.0165</text>
<text x="1083" y="394.2" font-size="17.3" text-anchor="middle" fill="#222">Expected <tspan dx="2">−log</tspan><tspan font-size="11.5" dy="3.5">10</tspan><tspan dy="-3.5">(</tspan><tspan font-style="italic">p</tspan>)</text>
<text transform="translate(853.2,180.4) rotate(-90)" font-size="17.2" text-anchor="middle" fill="#222">Observed <tspan dx="2">−log</tspan><tspan font-size="11.5" dy="3.5">10</tspan><tspan dy="-3.5">(</tspan><tspan font-style="italic">p</tspan>)</text>
<text x="817.5" y="34.5" font-size="38.5" font-weight="bold" fill="#000">B</text>
<path d="M1668.00 39.8V595.5M1688.81 39.8V595.5M1709.62 39.8V595.5M1730.43 39.8V595.5M1751.24 39.8V595.5M1772.05 39.8V595.5M1792.86 39.8V595.5M1813.67 39.8V595.5M1834.48 39.8V595.5M1855.29 39.8V595.5M1876.10 39.8V595.5M1896.91 39.8V595.5M1917.72 39.8V595.5M1938.53 39.8V595.5M1959.34 39.8V595.5M1980.15 39.8V595.5M2000.96 39.8V595.5M1657.5 53.00H2012.7M1657.5 74.27H2012.7M1657.5 95.53H2012.7M1657.5 116.80H2012.7M1657.5 138.06H2012.7M1657.5 159.32H2012.7M1657.5 180.59H2012.7M1657.5 201.86H2012.7M1657.5 223.12H2012.7M1657.5 244.38H2012.7M1657.5 265.65H2012.7M1657.5 286.92H2012.7M1657.5 308.18H2012.7M1657.5 329.44H2012.7M1657.5 350.71H2012.7M1657.5 371.98H2012.7M1657.5 393.24H2012.7M1657.5 414.50H2012.7M1657.5 435.77H2012.7M1657.5 457.04H2012.7M1657.5 478.30H2012.7M1657.5 499.56H2012.7M1657.5 520.83H2012.7M1657.5 542.10H2012.7M1657.5 563.36H2012.7M1657.5 584.62H2012.7" stroke="#D6D6D6" stroke-width="1.15" fill="none"/>
<path d="M1650.2 53.00H1654.8M1650.2 74.27H1654.8M1650.2 95.53H1654.8M1650.2 116.80H1654.8M1650.2 138.06H1654.8M1650.2 159.32H1654.8M1650.2 180.59H1654.8M1650.2 201.86H1654.8M1650.2 223.12H1654.8M1650.2 244.38H1654.8M1650.2 265.65H1654.8M1650.2 286.92H1654.8M1650.2 308.18H1654.8M1650.2 329.44H1654.8M1650.2 350.71H1654.8M1650.2 371.98H1654.8M1650.2 393.24H1654.8M1650.2 414.50H1654.8M1650.2 435.77H1654.8M1650.2 457.04H1654.8M1650.2 478.30H1654.8M1650.2 499.56H1654.8M1650.2 520.83H1654.8M1650.2 542.10H1654.8M1650.2 563.36H1654.8M1650.2 584.62H1654.8" stroke="#333" stroke-width="1.15"/>
<path d="M1668.00 597.6V602M1688.81 597.6V602M1709.62 597.6V602M1730.43 597.6V602M1751.24 597.6V602M1772.05 597.6V602M1792.86 597.6V602M1813.67 597.6V602M1834.48 597.6V602M1855.29 597.6V602M1876.10 597.6V602M1896.91 597.6V602M1917.72 597.6V602M1938.53 597.6V602M1959.34 597.6V602M1980.15 597.6V602M2000.96 597.6V602" stroke="#333" stroke-width="1.15"/>
<text x="1645.8" y="59.30" font-size="14.6" text-anchor="end" fill="#4D4D4D">Whole_Blood</text>
<text x="1645.8" y="80.56" font-size="14.6" text-anchor="end" fill="#4D4D4D">Quach_2016_ge_monocyte_Pam3CSK4</text>
<text x="1645.8" y="101.83" font-size="14.6" text-anchor="end" fill="#4D4D4D">Quach_2016_ge_monocyte_naive</text>
<text x="1645.8" y="123.09" font-size="14.6" text-anchor="end" fill="#4D4D4D">Quach_2016_ge_monocyte_LPS</text>
<text x="1645.8" y="144.36" font-size="14.6" text-anchor="end" fill="#4D4D4D">Quach_2016_ge_monocyte_IAV</text>
<text x="1645.8" y="165.62" font-size="14.6" text-anchor="end" fill="#4D4D4D">PUTM</text>
<text x="1645.8" y="186.89" font-size="14.6" text-anchor="end" fill="#4D4D4D">PsychENCODE_eQTLs</text>
<text x="1645.8" y="208.16" font-size="14.6" text-anchor="end" fill="#4D4D4D">Lepik_2017_ge_blood</text>
<text x="1645.8" y="229.42" font-size="14.6" text-anchor="end" fill="#4D4D4D">GENCORD_ge_LCL</text>
<text x="1645.8" y="250.69" font-size="14.6" text-anchor="end" fill="#4D4D4D">Fairfax_2014_naive</text>
<text x="1645.8" y="271.95" font-size="14.6" text-anchor="end" fill="#4D4D4D">Fairfax_2014_LPS2</text>
<text x="1645.8" y="293.22" font-size="14.6" text-anchor="end" fill="#4D4D4D">Fairfax_2014_IFN24</text>
<text x="1645.8" y="314.48" font-size="14.6" text-anchor="end" fill="#4D4D4D">Fairfax_2012_B-cell_CD19</text>
<text x="1645.8" y="335.75" font-size="14.6" text-anchor="end" fill="#4D4D4D">CEDAR_neutrophil_CD15</text>
<text x="1645.8" y="357.01" font-size="14.6" text-anchor="end" fill="#4D4D4D">CEDAR_monocyte_CD14</text>
<text x="1645.8" y="378.28" font-size="14.6" text-anchor="end" fill="#4D4D4D">CEDAR_B-cell_CD19</text>
<text x="1645.8" y="399.54" font-size="14.6" text-anchor="end" fill="#4D4D4D">BrainSeq_ge_brain</text>
<text x="1645.8" y="420.81" font-size="14.6" text-anchor="end" fill="#4D4D4D">Brain_Hypothalamus</text>
<text x="1645.8" y="442.07" font-size="14.6" text-anchor="end" fill="#4D4D4D">Brain_Frontal_Cortex_BA9</text>
<text x="1645.8" y="463.34" font-size="14.6" text-anchor="end" fill="#4D4D4D">Brain_Cortex</text>
<text x="1645.8" y="484.60" font-size="14.6" text-anchor="end" fill="#4D4D4D">Brain_Anterior_cingulate_cortex_BA24</text>
<text x="1645.8" y="505.87" font-size="14.6" text-anchor="end" fill="#4D4D4D">BLUEPRINT_ge_T-cell</text>
<text x="1645.8" y="527.13" font-size="14.6" text-anchor="end" fill="#4D4D4D">BLUEPRINT_ge_neutrophil</text>
<text x="1645.8" y="548.39" font-size="14.6" text-anchor="end" fill="#4D4D4D">BLUEPRINT_ge_monocyte</text>
<text x="1645.8" y="569.66" font-size="14.6" text-anchor="end" fill="#4D4D4D">B_cell_naive</text>
<text x="1645.8" y="590.92" font-size="14.6" text-anchor="end" fill="#4D4D4D">Alasoo_2018_ge_macrophage_IFNg</text>
<text transform="translate(1680.70,658.2) rotate(-90)" font-size="14.6" text-anchor="middle" fill="#4D4D4D">AKAP10</text>
<text transform="translate(1701.51,658.2) rotate(-90)" font-size="14.6" text-anchor="middle" fill="#4D4D4D">ALDH3A2</text>
<text transform="translate(1722.32,658.2) rotate(-90)" font-size="14.6" text-anchor="middle" fill="#4D4D4D">CCDC144A</text>
<text transform="translate(1743.13,658.2) rotate(-90)" font-size="14.6" text-anchor="middle" fill="#4D4D4D">CD200R1</text>
<text transform="translate(1763.94,658.2) rotate(-90)" font-size="14.6" text-anchor="middle" fill="#4D4D4D">CD200R1L</text>
<text transform="translate(1784.75,658.2) rotate(-90)" font-size="14.6" text-anchor="middle" fill="#4D4D4D">GTPBP8</text>
<text transform="translate(1805.56,658.2) rotate(-90)" font-size="14.6" text-anchor="middle" fill="#4D4D4D">LGALS9B</text>
<text transform="translate(1826.37,658.2) rotate(-90)" font-size="14.6" text-anchor="middle" fill="#4D4D4D">NEPRO</text>
<text transform="translate(1847.18,658.2) rotate(-90)" font-size="14.6" text-anchor="middle" fill="#4D4D4D">RP11-180K7.1</text>
<text transform="translate(1867.99,658.2) rotate(-90)" font-size="14.6" text-anchor="middle" fill="#4D4D4D">RP11-209D14.2</text>
<text transform="translate(1888.80,658.2) rotate(-90)" font-size="14.6" text-anchor="middle" fill="#4D4D4D">RP11-484K9.4</text>
<text transform="translate(1909.61,658.2) rotate(-90)" font-size="14.6" text-anchor="middle" fill="#4D4D4D">RP11-662J14.1</text>
<text transform="translate(1930.42,658.2) rotate(-90)" font-size="14.6" text-anchor="middle" fill="#4D4D4D">RP11-662J14.2</text>
<text transform="translate(1951.23,658.2) rotate(-90)" font-size="14.6" text-anchor="middle" fill="#4D4D4D">RP11-78O7.2</text>
<text transform="translate(1972.04,658.2) rotate(-90)" font-size="14.6" text-anchor="middle" fill="#4D4D4D">SLC47A1</text>
<text transform="translate(1992.85,658.2) rotate(-90)" font-size="14.6" text-anchor="middle" fill="#4D4D4D">SNORD3D</text>
<text transform="translate(2013.66,658.2) rotate(-90)" font-size="14.6" text-anchor="middle" fill="#4D4D4D">SPECC1</text>
<circle cx="1668.00" cy="53.00" r="7.00" fill="#5FDCD0"/>
<circle cx="1688.81" cy="53.00" r="4.75" fill="#5FDCD0"/>
<circle cx="1792.86" cy="53.00" r="1.75" fill="#F2706F"/>
<circle cx="2000.96" cy="53.00" r="1.75" fill="#5FDCD0"/>
<circle cx="1668.00" cy="74.27" r="4.75" fill="#F2706F"/>
<circle cx="1668.00" cy="95.53" r="6.40" fill="#F2706F"/>
<circle cx="1668.00" cy="116.80" r="4.75" fill="#F2706F"/>
<circle cx="1668.00" cy="138.06" r="6.25" fill="#F2706F"/>
<circle cx="1709.62" cy="159.32" r="4.75" fill="#7A7A7A"/>
<circle cx="1751.24" cy="180.59" r="7.50" fill="#5FDCD0"/>
<circle cx="1834.48" cy="180.59" r="7.50" fill="#5FDCD0"/>
<circle cx="1855.29" cy="180.59" r="5.00" fill="#5FDCD0"/>
<circle cx="1876.10" cy="180.59" r="7.10" fill="#5FDCD0"/>
<circle cx="1938.53" cy="180.59" r="4.60" fill="#F2706F"/>
<circle cx="1980.15" cy="180.59" r="5.00" fill="#5FDCD0"/>
<circle cx="2000.96" cy="180.59" r="5.00" fill="#5FDCD0"/>
<circle cx="1668.00" cy="201.86" r="6.40" fill="#F2706F"/>
<circle cx="1688.81" cy="201.86" r="6.40" fill="#F2706F"/>
<circle cx="1688.81" cy="223.12" r="5.75" fill="#F2706F"/>
<circle cx="1668.00" cy="244.38" r="5.75" fill="#F2706F"/>
<circle cx="1730.43" cy="244.38" r="4.25" fill="#5FDCD0"/>
<circle cx="1772.05" cy="244.38" r="10.80" fill="#F2706F"/>
<circle cx="1959.34" cy="244.38" r="7.60" fill="#5FDCD0"/>
<circle cx="1688.81" cy="265.65" r="11.20" fill="#5FDCD0"/>
<circle cx="1959.34" cy="265.65" r="7.60" fill="#5FDCD0"/>
<circle cx="1959.34" cy="286.92" r="7.60" fill="#5FDCD0"/>
<circle cx="1688.81" cy="308.18" r="6.50" fill="#F2706F"/>
<circle cx="1668.00" cy="329.44" r="5.75" fill="#F2706F"/>
<circle cx="1688.81" cy="350.71" r="4.25" fill="#5FDCD0"/>
<circle cx="1688.81" cy="371.98" r="6.50" fill="#F2706F"/>
<circle cx="1855.29" cy="393.24" r="1.75" fill="#F2706F"/>
<circle cx="1855.29" cy="414.50" r="5.25" fill="#5FDCD0"/>
<circle cx="1855.29" cy="435.77" r="4.25" fill="#5FDCD0"/>
<circle cx="1855.29" cy="457.04" r="4.25" fill="#5FDCD0"/>
<circle cx="1896.91" cy="457.04" r="9.75" fill="#5FDCD0"/>
<circle cx="1917.72" cy="457.04" r="2.00" fill="#5FDCD0"/>
<circle cx="1855.29" cy="478.30" r="2.00" fill="#5FDCD0"/>
<circle cx="1813.67" cy="499.56" r="9.75" fill="#F2706F"/>
<circle cx="1668.00" cy="520.83" r="6.00" fill="#F2706F"/>
<circle cx="1668.00" cy="542.10" r="6.00" fill="#F2706F"/>
<circle cx="1730.43" cy="542.10" r="4.25" fill="#5FDCD0"/>
<circle cx="1772.05" cy="542.10" r="10.25" fill="#F2706F"/>
<circle cx="1688.81" cy="563.36" r="6.00" fill="#5FDCD0"/>
<circle cx="1668.00" cy="584.62" r="5.75" fill="#F2706F"/>
<text x="1831.5" y="734" font-size="16.8" text-anchor="middle" fill="#111" textLength="49" lengthAdjust="spacingAndGlyphs">eGene</text>
<text transform="translate(1389.5,331.6) rotate(-90)" font-size="17.4" text-anchor="middle" fill="#111">Tissue dataset</text>
<rect x="1404.1" y="657" width="191" height="154" fill="#fff" stroke="#333" stroke-width="1.5"/>
<text x="1416.2" y="682.6" font-size="16.5" fill="#111" textLength="67.6" lengthAdjust="spacingAndGlyphs"># eQTLs</text>
<text x="1515.3" y="684" font-size="16.8" fill="#111" textLength="68.2" lengthAdjust="spacingAndGlyphs">Direction</text>
<circle cx="1432.2" cy="708.7" r="5.95" fill="#000"/>
<text x="1454.8" y="715.5" font-size="13.6" fill="#222">3</text>
<circle cx="1432.2" cy="736.6" r="8.00" fill="#000"/>
<text x="1454.8" y="743.4" font-size="13.6" fill="#222">6</text>
<circle cx="1432.2" cy="763.1" r="9.80" fill="#000"/>
<text x="1454.8" y="769.9" font-size="13.6" fill="#222">9</text>
<circle cx="1432.2" cy="790.4" r="10.65" fill="#000"/>
<text x="1454.8" y="797.2" font-size="13.6" fill="#222">12</text>
<circle cx="1529.8" cy="705.8" r="3.3" fill="#F2706F"/>
<text x="1551.6" y="711.6" font-size="13.6" fill="#222">-</text>
<circle cx="1529.8" cy="733.0" r="3.3" fill="#5FDCD0"/>
<text x="1551.6" y="738.8" font-size="13.6" fill="#222">+</text>
<circle cx="1529.8" cy="760.2" r="3.3" fill="#7A7A7A"/>
<text x="1551.6" y="766.0" font-size="13.6" fill="#222">NA</text>
<text x="1329.5" y="34.3" font-size="37" font-weight="bold" fill="#000">C</text>
<defs><clipPath id="k1"><path d="M48.80 427.70A5.20 5.20 0 0 1 54.00 422.50L60.20 422.50A5.20 5.20 0 0 1 65.40 427.70L65.40 633.20L63.50 637.00L65.40 645.10L65.40 848.60Q65.40 851.90 61.40 852.40Q57.10 854.00 52.80 852.40Q48.80 851.90 48.80 848.60L48.80 645.10L50.70 637.00L48.80 633.20Z"/></clipPath><clipPath id="k2"><path d="M153.20 432.50A5.20 5.20 0 0 1 158.40 427.30L164.00 427.30A5.20 5.20 0 0 1 169.20 432.50L169.20 585.30L167.30 590.30L169.20 595.40L169.20 844.20Q169.20 847.50 165.20 848.00Q161.20 849.60 157.20 848.00Q153.20 847.50 153.20 844.20L153.20 595.40L155.10 590.30L153.20 585.30Z"/></clipPath><clipPath id="k3"><path d="M258.40 471.00A5.20 5.20 0 0 1 263.60 465.80L268.50 465.80A5.20 5.20 0 0 1 273.70 471.00L273.70 619.60L271.80 624.60L273.70 629.70L273.70 805.70Q273.70 809.00 269.70 809.50Q266.05 811.10 262.40 809.50Q258.40 809.00 258.40 805.70L258.40 629.70L260.30 624.60L258.40 619.60Z"/></clipPath><clipPath id="k4"><path d="M382.80 477.10A5.20 5.20 0 0 1 388.00 471.90L394.20 471.90A5.20 5.20 0 0 1 399.40 477.10L399.40 557.40L397.50 563.00L399.40 567.00L399.40 799.90Q399.40 803.20 395.40 803.70Q391.10 805.30 386.80 803.70Q382.80 803.20 382.80 799.90L382.80 567.00L384.70 563.00L382.80 557.40Z"/></clipPath><clipPath id="k5"><path d="M478.10 486.10A5.20 5.20 0 0 1 483.30 480.90L488.60 480.90A5.20 5.20 0 0 1 493.80 486.10L493.80 563.00L491.90 567.00L493.80 570.00L493.80 791.60Q493.80 794.90 489.80 795.40Q485.95 797.00 482.10 795.40Q478.10 794.90 478.10 791.60L478.10 570.00L480.00 567.00L478.10 563.00Z"/></clipPath><clipPath id="k6"><path d="M602.80 494.50A5.20 5.20 0 0 1 608.00 489.30L613.80 489.30A5.20 5.20 0 0 1 619.00 494.50L619.00 592.00L617.10 596.00L619.00 600.20L619.00 783.20Q619.00 786.50 615.00 787.00Q610.90 788.60 606.80 787.00Q602.80 786.50 602.80 783.20L602.80 600.20L604.70 596.00L602.80 592.00Z"/></clipPath><clipPath id="k7"><path d="M698.00 504.70A5.20 5.20 0 0 1 703.20 499.50L708.20 499.50A5.20 5.20 0 0 1 713.40 504.70L713.40 600.50L711.50 603.80L713.40 607.80L713.40 772.10Q713.40 775.40 709.40 775.90Q705.70 777.50 702.00 775.90Q698.00 775.40 698.00 772.10L698.00 607.80L699.90 603.80L698.00 600.50Z"/></clipPath><clipPath id="k8"><path d="M813.20 515.20A5.20 5.20 0 0 1 818.40 510.00L823.90 510.00A5.20 5.20 0 0 1 829.10 515.20L829.10 587.00L827.20 590.90L829.10 594.90L829.10 761.30Q829.10 764.60 825.10 765.10Q821.15 766.70 817.20 765.10Q813.20 764.60 813.20 761.30L813.20 594.90L815.10 590.90L813.20 587.00Z"/></clipPath><clipPath id="k9"><path d="M839.80 519.90A5.20 5.20 0 0 1 845.00 514.70L850.30 514.70A5.20 5.20 0 0 1 855.50 519.90L855.50 598.00L853.60 602.00L855.50 604.30L855.50 756.60Q855.50 759.90 851.50 760.40Q847.65 762.00 843.80 760.40Q839.80 759.90 839.80 756.60L839.80 604.30L841.70 602.00L839.80 598.00Z"/></clipPath><clipPath id="k10"><path d="M924.80 524.50A5.20 5.20 0 0 1 930.00 519.30L935.60 519.30A5.20 5.20 0 0 1 940.80 524.50L940.80 587.40L938.90 591.80L940.80 594.40L940.80 752.60Q940.80 755.90 936.80 756.40Q932.80 758.00 928.80 756.40Q924.80 755.90 924.80 752.60L924.80 594.40L926.70 591.80L924.80 587.40Z"/></clipPath><clipPath id="k11"><path d="M1010.00 525.20A5.20 5.20 0 0 1 1015.20 520.00L1021.00 520.00A5.20 5.20 0 0 1 1026.20 525.20L1026.20 611.00L1024.30 614.10L1026.20 618.00L1026.20 752.30Q1026.20 755.60 1022.20 756.10Q1018.10 757.70 1014.00 756.10Q1010.00 755.60 1010.00 752.30L1010.00 618.00L1011.90 614.10L1010.00 611.00Z"/></clipPath><clipPath id="k12"><path d="M1095.60 526.00A5.20 5.20 0 0 1 1100.80 520.80L1105.80 520.80A5.20 5.20 0 0 1 1111.00 526.00L1111.00 580.90L1109.10 585.60L1111.00 589.60L1111.00 750.80Q1111.00 754.10 1107.00 754.60Q1103.30 756.20 1099.60 754.60Q1095.60 754.10 1095.60 750.80L1095.60 589.60L1097.50 585.60L1095.60 580.90Z"/></clipPath><clipPath id="k13"><path d="M49.00 926.00A5.20 5.20 0 0 1 54.20 920.80L59.80 920.80A5.20 5.20 0 0 1 65.00 926.00L65.00 950.00L63.10 952.50L65.00 956.00L65.00 1107.90Q65.00 1111.20 61.00 1111.70Q57.00 1113.30 53.00 1111.70Q49.00 1111.20 49.00 1107.90L49.00 956.00L50.90 952.50L49.00 950.00Z"/></clipPath><clipPath id="k14"><path d="M153.40 933.00A5.20 5.20 0 0 1 158.60 927.80L164.00 927.80A5.20 5.20 0 0 1 169.20 933.00L169.20 957.00L167.30 959.00L169.20 961.50L169.20 1101.90Q169.20 1105.20 165.20 1105.70Q161.30 1107.30 157.40 1105.70Q153.40 1105.20 153.40 1101.90L153.40 961.50L155.30 959.00L153.40 957.00Z"/></clipPath><clipPath id="k15"><path d="M258.20 937.00A5.20 5.20 0 0 1 263.40 931.80L268.80 931.80A5.20 5.20 0 0 1 274.00 937.00L274.00 961.00L272.10 964.00L274.00 968.00L274.00 1098.00Q274.00 1101.30 270.00 1101.80Q266.10 1103.40 262.20 1101.80Q258.20 1101.30 258.20 1098.00L258.20 968.00L260.10 964.00L258.20 961.00Z"/></clipPath><clipPath id="k16"><path d="M383.20 946.80A5.20 5.20 0 0 1 388.40 941.60L393.80 941.60A5.20 5.20 0 0 1 399.00 946.80L399.00 999.60L397.10 1002.70L399.00 1006.70L399.00 1088.80Q399.00 1092.10 395.00 1092.60Q391.10 1094.20 387.20 1092.60Q383.20 1092.10 383.20 1088.80L383.20 1006.70L385.10 1002.70L383.20 999.60Z"/></clipPath><clipPath id="k17"><path d="M478.20 953.70A5.20 5.20 0 0 1 483.40 948.50L488.60 948.50A5.20 5.20 0 0 1 493.80 953.70L493.80 987.80L491.90 990.60L493.80 992.70L493.80 1081.10Q493.80 1084.40 489.80 1084.90Q486.00 1086.50 482.20 1084.90Q478.20 1084.40 478.20 1081.10L478.20 992.70L480.10 990.60L478.20 987.80Z"/></clipPath><clipPath id="k18"><path d="M602.70 956.30A5.20 5.20 0 0 1 607.90 951.10L613.40 951.10A5.20 5.20 0 0 1 618.60 956.30L618.60 978.70L616.70 981.90L618.60 985.10L618.60 1078.80Q618.60 1082.10 614.60 1082.60Q610.65 1084.20 606.70 1082.60Q602.70 1082.10 602.70 1078.80L602.70 985.10L604.60 981.90L602.70 978.70Z"/></clipPath><clipPath id="k19"><path d="M697.70 971.60A5.20 5.20 0 0 1 702.90 966.40L708.70 966.40A5.20 5.20 0 0 1 713.90 971.60L713.90 1008.70L712.00 1012.00L713.90 1015.30L713.90 1063.20Q713.90 1066.50 709.90 1067.00Q705.80 1068.60 701.70 1067.00Q697.70 1066.50 697.70 1063.20L697.70 1015.30L699.60 1012.00L697.70 1008.70Z"/></clipPath><clipPath id="k20"><path d="M813.10 968.50A5.20 5.20 0 0 1 818.30 963.30L823.50 963.30A5.20 5.20 0 0 1 828.70 968.50L828.70 1007.30L826.80 1010.90L828.70 1013.90L828.70 1065.20Q828.70 1068.50 824.70 1069.00Q820.90 1070.60 817.10 1069.00Q813.10 1068.50 813.10 1065.20L813.10 1013.90L815.00 1010.90L813.10 1007.30Z"/></clipPath><clipPath id="k21"><path d="M839.50 980.40A5.20 5.20 0 0 1 844.70 975.20L850.90 975.20A5.20 5.20 0 0 1 856.10 980.40L856.10 995.50L854.20 998.80L856.10 1001.40L856.10 1054.00Q856.10 1057.30 852.10 1057.80Q847.80 1059.40 843.50 1057.80Q839.50 1057.30 839.50 1054.00L839.50 1001.40L841.40 998.80L839.50 995.50Z"/></clipPath><clipPath id="k22"><path d="M924.60 977.70A5.20 5.20 0 0 1 929.80 972.50L935.40 972.50A5.20 5.20 0 0 1 940.60 977.70L940.60 996.30L938.70 1000.00L940.60 1004.30L940.60 1056.80Q940.60 1060.10 936.60 1060.60Q932.60 1062.20 928.60 1060.60Q924.60 1060.10 924.60 1056.80L924.60 1004.30L926.50 1000.00L924.60 996.30Z"/></clipPath></defs>
<g clip-path="url(#k1)"><rect x="47.80" y="421.50" width="18.60" height="432.70" fill="#fff"/><rect x="47.80" y="429.20" width="18.60" height="4.00" fill="#EEEEEE"/><rect x="47.80" y="438.30" width="18.60" height="3.00" fill="#EEEEEE"/><rect x="47.80" y="448.00" width="18.60" height="4.90" fill="#D9D9D9"/><rect x="47.80" y="460.50" width="18.60" height="6.10" fill="#EEEEEE"/><rect x="47.80" y="474.30" width="18.60" height="2.80" fill="#EEEEEE"/><rect x="47.80" y="480.80" width="18.60" height="3.60" fill="#EEEEEE"/><rect x="47.80" y="494.90" width="18.60" height="6.10" fill="#EEEEEE"/><rect x="47.80" y="506.00" width="18.60" height="6.00" fill="#C1C1C1"/><rect x="47.80" y="521.20" width="18.60" height="5.00" fill="#D9D9D9"/><rect x="47.80" y="530.90" width="18.60" height="12.50" fill="#D9D9D9"/><rect x="47.80" y="545.40" width="18.60" height="24.30" fill="#A6A6A6"/><rect x="47.80" y="576.80" width="18.60" height="5.00" fill="#C1C1C1"/><rect x="47.80" y="587.90" width="18.60" height="8.10" fill="#C1C1C1"/><rect x="47.80" y="600.00" width="18.60" height="8.10" fill="#A6A6A6"/><rect x="47.80" y="616.20" width="18.60" height="7.10" fill="#D9D9D9"/><rect x="47.80" y="627.30" width="18.60" height="4.10" fill="#D9D9D9"/><rect x="47.80" y="677.00" width="18.60" height="4.20" fill="#D9D9D9"/><rect x="47.80" y="695.30" width="18.60" height="3.50" fill="#EEEEEE"/><rect x="47.80" y="705.60" width="18.60" height="4.60" fill="#D9D9D9"/><rect x="47.80" y="717.00" width="18.60" height="3.50" fill="#D9D9D9"/><rect x="47.80" y="727.30" width="18.60" height="5.70" fill="#D9D9D9"/><rect x="47.80" y="742.10" width="18.60" height="8.00" fill="#C1C1C1"/><rect x="47.80" y="756.50" width="18.60" height="7.30" fill="#C1C1C1"/><rect x="47.80" y="777.50" width="18.60" height="6.90" fill="#EEEEEE"/><rect x="47.80" y="795.80" width="18.60" height="10.20" fill="#A6A6A6"/><rect x="47.80" y="818.60" width="18.60" height="5.70" fill="#D9D9D9"/><rect x="47.80" y="828.90" width="18.60" height="11.40" fill="#C1C1C1"/><rect x="47.80" y="645.10" width="18.60" height="24.00" fill="#79C1E2"/></g>
<path d="M48.80 427.70A5.20 5.20 0 0 1 54.00 422.50L60.20 422.50A5.20 5.20 0 0 1 65.40 427.70L65.40 633.20L63.50 637.00L65.40 645.10L65.40 848.60Q65.40 851.90 61.40 852.40Q57.10 854.00 52.80 852.40Q48.80 851.90 48.80 848.60L48.80 645.10L50.70 637.00L48.80 633.20Z" fill="none" stroke="#A6A6A6" stroke-width="2.2"/>
<path d="M49.75 633.20L64.45 633.20Q63.63 635.10 58.70 637.00Q63.63 641.05 64.45 645.10L49.75 645.10Q50.57 641.05 55.50 637.00Q50.57 635.10 49.75 633.20Z" fill="#4747E4"/>
<text x="56.3" y="874.6" font-size="15" text-anchor="middle" fill="#111">1</text>
<g clip-path="url(#k2)"><rect x="152.20" y="426.30" width="18.00" height="423.50" fill="#fff"/><rect x="152.20" y="439.20" width="18.00" height="3.00" fill="#D9D9D9"/><rect x="152.20" y="452.30" width="18.00" height="7.10" fill="#C1C1C1"/><rect x="152.20" y="464.40" width="18.00" height="7.10" fill="#C1C1C1"/><rect x="152.20" y="478.60" width="18.00" height="3.00" fill="#EEEEEE"/><rect x="152.20" y="486.70" width="18.00" height="6.00" fill="#C1C1C1"/><rect x="152.20" y="496.80" width="18.00" height="5.00" fill="#D9D9D9"/><rect x="152.20" y="512.90" width="18.00" height="9.10" fill="#A6A6A6"/><rect x="152.20" y="525.00" width="18.00" height="9.10" fill="#A6A6A6"/><rect x="152.20" y="540.20" width="18.00" height="6.10" fill="#D9D9D9"/><rect x="152.20" y="552.30" width="18.00" height="4.10" fill="#D9D9D9"/><rect x="152.20" y="559.40" width="18.00" height="13.10" fill="#A6A6A6"/><rect x="152.20" y="605.90" width="18.00" height="5.00" fill="#D9D9D9"/><rect x="152.20" y="615.00" width="18.00" height="3.00" fill="#EEEEEE"/><rect x="152.20" y="627.00" width="18.00" height="5.00" fill="#D9D9D9"/><rect x="152.20" y="640.20" width="18.00" height="10.30" fill="#D9D9D9"/><rect x="152.20" y="657.70" width="18.00" height="4.50" fill="#EEEEEE"/><rect x="152.20" y="664.50" width="18.00" height="8.00" fill="#A6A6A6"/><rect x="152.20" y="676.00" width="18.00" height="6.80" fill="#A6A6A6"/><rect x="152.20" y="695.30" width="18.00" height="6.90" fill="#C1C1C1"/><rect x="152.20" y="710.20" width="18.00" height="8.00" fill="#C1C1C1"/><rect x="152.20" y="735.30" width="18.00" height="2.30" fill="#D9D9D9"/><rect x="152.20" y="743.30" width="18.00" height="9.10" fill="#C1C1C1"/><rect x="152.20" y="758.10" width="18.00" height="8.00" fill="#C1C1C1"/><rect x="152.20" y="787.80" width="18.00" height="9.20" fill="#A6A6A6"/><rect x="152.20" y="808.40" width="18.00" height="5.60" fill="#D9D9D9"/><rect x="152.20" y="816.30" width="18.00" height="6.90" fill="#A6A6A6"/><rect x="152.20" y="832.30" width="18.00" height="2.30" fill="#D9D9D9"/></g>
<path d="M153.20 432.50A5.20 5.20 0 0 1 158.40 427.30L164.00 427.30A5.20 5.20 0 0 1 169.20 432.50L169.20 585.30L167.30 590.30L169.20 595.40L169.20 844.20Q169.20 847.50 165.20 848.00Q161.20 849.60 157.20 848.00Q153.20 847.50 153.20 844.20L153.20 595.40L155.10 590.30L153.20 585.30Z" fill="none" stroke="#A6A6A6" stroke-width="2.2"/>
<path d="M154.15 585.30L168.25 585.30Q167.50 587.80 162.80 590.30Q167.50 592.85 168.25 595.40L154.15 595.40Q154.90 592.85 159.60 590.30Q154.90 587.80 154.15 585.30Z" fill="#4747E4"/>
<text x="161.3" y="871.0" font-size="15" text-anchor="middle" fill="#111">2</text>
<g clip-path="url(#k3)"><rect x="257.40" y="464.80" width="17.30" height="346.50" fill="#fff"/><rect x="257.40" y="470.00" width="17.30" height="4.00" fill="#D9D9D9"/><rect x="257.40" y="477.00" width="17.30" height="6.00" fill="#D9D9D9"/><rect x="257.40" y="497.40" width="17.30" height="12.10" fill="#A6A6A6"/><rect x="257.40" y="514.50" width="17.30" height="6.10" fill="#C1C1C1"/><rect x="257.40" y="524.60" width="17.30" height="5.10" fill="#D9D9D9"/><rect x="257.40" y="536.80" width="17.30" height="6.00" fill="#C1C1C1"/><rect x="257.40" y="563.00" width="17.30" height="6.00" fill="#D9D9D9"/><rect x="257.40" y="579.20" width="17.30" height="7.10" fill="#D9D9D9"/><rect x="257.40" y="596.40" width="17.30" height="6.00" fill="#C1C1C1"/><rect x="257.40" y="611.50" width="17.30" height="6.10" fill="#D9D9D9"/><rect x="257.40" y="644.80" width="17.30" height="6.10" fill="#C1C1C1"/><rect x="257.40" y="655.00" width="17.30" height="4.00" fill="#D9D9D9"/><rect x="257.40" y="664.00" width="17.30" height="5.00" fill="#C1C1C1"/><rect x="257.40" y="672.00" width="17.30" height="4.00" fill="#D9D9D9"/><rect x="257.40" y="713.50" width="17.30" height="9.10" fill="#A6A6A6"/><rect x="257.40" y="728.70" width="17.30" height="4.00" fill="#D9D9D9"/><rect x="257.40" y="736.80" width="17.30" height="4.00" fill="#D9D9D9"/><rect x="257.40" y="743.80" width="17.30" height="10.20" fill="#A6A6A6"/><rect x="257.40" y="761.00" width="17.30" height="7.00" fill="#C1C1C1"/><rect x="257.40" y="775.00" width="17.30" height="5.00" fill="#C1C1C1"/><rect x="257.40" y="789.30" width="17.30" height="6.10" fill="#C1C1C1"/><rect x="257.40" y="629.70" width="17.30" height="7.10" fill="#79C1E2"/></g>
<path d="M258.40 471.00A5.20 5.20 0 0 1 263.60 465.80L268.50 465.80A5.20 5.20 0 0 1 273.70 471.00L273.70 619.60L271.80 624.60L273.70 629.70L273.70 805.70Q273.70 809.00 269.70 809.50Q266.05 811.10 262.40 809.50Q258.40 809.00 258.40 805.70L258.40 629.70L260.30 624.60L258.40 619.60Z" fill="none" stroke="#A6A6A6" stroke-width="2.2"/>
<path d="M259.35 619.60L272.75 619.60Q272.08 622.10 267.65 624.60Q272.08 627.15 272.75 629.70L259.35 629.70Q260.02 627.15 264.45 624.60Q260.02 622.10 259.35 619.60Z" fill="#4747E4"/>
<text x="265.9" y="831.7" font-size="15" text-anchor="middle" fill="#111">3</text>
<g clip-path="url(#k4)"><rect x="381.80" y="470.90" width="18.60" height="334.60" fill="#fff"/><rect x="381.80" y="495.40" width="18.60" height="5.00" fill="#D9D9D9"/><rect x="381.80" y="506.50" width="18.60" height="4.00" fill="#C1C1C1"/><rect x="381.80" y="522.60" width="18.60" height="13.20" fill="#A6A6A6"/><rect x="381.80" y="544.80" width="18.60" height="6.10" fill="#D9D9D9"/><rect x="381.80" y="577.20" width="18.60" height="10.10" fill="#A6A6A6"/><rect x="381.80" y="596.40" width="18.60" height="8.00" fill="#C1C1C1"/><rect x="381.80" y="609.50" width="18.60" height="6.10" fill="#D9D9D9"/><rect x="381.80" y="626.70" width="18.60" height="7.00" fill="#C1C1C1"/><rect x="381.80" y="637.80" width="18.60" height="5.00" fill="#C1C1C1"/><rect x="381.80" y="647.90" width="18.60" height="10.10" fill="#D9D9D9"/><rect x="381.80" y="670.00" width="18.60" height="10.20" fill="#C1C1C1"/><rect x="381.80" y="686.00" width="18.60" height="8.00" fill="#D9D9D9"/><rect x="381.80" y="699.20" width="18.60" height="13.10" fill="#A6A6A6"/><rect x="381.80" y="740.60" width="18.60" height="10.10" fill="#A6A6A6"/><rect x="381.80" y="755.80" width="18.60" height="9.00" fill="#A6A6A6"/><rect x="381.80" y="768.90" width="18.60" height="6.10" fill="#C1C1C1"/><rect x="381.80" y="778.00" width="18.60" height="8.00" fill="#A6A6A6"/></g>
<path d="M382.80 477.10A5.20 5.20 0 0 1 388.00 471.90L394.20 471.90A5.20 5.20 0 0 1 399.40 477.10L399.40 557.40L397.50 563.00L399.40 567.00L399.40 799.90Q399.40 803.20 395.40 803.70Q391.10 805.30 386.80 803.70Q382.80 803.20 382.80 799.90L382.80 567.00L384.70 563.00L382.80 557.40Z" fill="none" stroke="#A6A6A6" stroke-width="2.2"/>
<path d="M383.75 557.40L398.45 557.40Q397.63 560.20 392.70 563.00Q397.63 565.00 398.45 567.00L383.75 567.00Q384.57 565.00 389.50 563.00Q384.57 560.20 383.75 557.40Z" fill="#4747E4"/>
<text x="390.9" y="825.5" font-size="15" text-anchor="middle" fill="#111">4</text>
<g clip-path="url(#k5)"><rect x="477.10" y="479.90" width="17.70" height="317.30" fill="#fff"/><rect x="477.10" y="500.30" width="17.70" height="9.10" fill="#D9D9D9"/><rect x="477.10" y="516.00" width="17.70" height="7.50" fill="#C1C1C1"/><rect x="477.10" y="526.60" width="17.70" height="6.00" fill="#A6A6A6"/><rect x="477.10" y="556.90" width="17.70" height="5.10" fill="#D9D9D9"/><rect x="477.10" y="585.20" width="17.70" height="11.10" fill="#C1C1C1"/><rect x="477.10" y="599.30" width="17.70" height="8.10" fill="#D9D9D9"/><rect x="477.10" y="615.50" width="17.70" height="8.00" fill="#D9D9D9"/><rect x="477.10" y="625.60" width="17.70" height="14.10" fill="#A6A6A6"/><rect x="477.10" y="651.80" width="17.70" height="7.10" fill="#C1C1C1"/><rect x="477.10" y="663.00" width="17.70" height="7.00" fill="#A6A6A6"/><rect x="477.10" y="680.00" width="17.70" height="9.20" fill="#A6A6A6"/><rect x="477.10" y="701.00" width="17.70" height="5.00" fill="#C1C1C1"/><rect x="477.10" y="730.60" width="17.70" height="8.00" fill="#C1C1C1"/><rect x="477.10" y="744.80" width="17.70" height="3.70" fill="#D9D9D9"/><rect x="477.10" y="757.00" width="17.70" height="13.60" fill="#A6A6A6"/></g>
<path d="M478.10 486.10A5.20 5.20 0 0 1 483.30 480.90L488.60 480.90A5.20 5.20 0 0 1 493.80 486.10L493.80 563.00L491.90 567.00L493.80 570.00L493.80 791.60Q493.80 794.90 489.80 795.40Q485.95 797.00 482.10 795.40Q478.10 794.90 478.10 791.60L478.10 570.00L480.00 567.00L478.10 563.00Z" fill="none" stroke="#A6A6A6" stroke-width="2.2"/>
<path d="M479.05 563.00L492.85 563.00Q492.13 565.00 487.55 567.00Q492.13 568.50 492.85 570.00L479.05 570.00Q479.77 568.50 484.35 567.00Q479.77 565.00 479.05 563.00Z" fill="#4747E4"/>
<text x="485.5" y="818.0" font-size="15" text-anchor="middle" fill="#111">5</text>
<g clip-path="url(#k6)"><rect x="601.80" y="488.30" width="18.20" height="300.50" fill="#fff"/><rect x="601.80" y="505.30" width="18.20" height="4.00" fill="#D9D9D9"/><rect x="601.80" y="518.40" width="18.20" height="16.10" fill="#C1C1C1"/><rect x="601.80" y="538.60" width="18.20" height="5.00" fill="#D9D9D9"/><rect x="601.80" y="572.00" width="18.20" height="9.00" fill="#A6A6A6"/><rect x="601.80" y="583.00" width="18.20" height="6.00" fill="#A6A6A6"/><rect x="601.80" y="600.20" width="18.20" height="11.10" fill="#A6A6A6"/><rect x="601.80" y="621.40" width="18.20" height="14.20" fill="#D9D9D9"/><rect x="601.80" y="637.60" width="18.20" height="4.00" fill="#D9D9D9"/><rect x="601.80" y="651.70" width="18.20" height="10.10" fill="#A6A6A6"/><rect x="601.80" y="663.80" width="18.20" height="8.20" fill="#A6A6A6"/><rect x="601.80" y="687.40" width="18.20" height="6.40" fill="#D9D9D9"/><rect x="601.80" y="694.50" width="18.20" height="11.90" fill="#A6A6A6"/><rect x="601.80" y="714.30" width="18.20" height="7.90" fill="#D9D9D9"/><rect x="601.80" y="741.20" width="18.20" height="3.90" fill="#C1C1C1"/><rect x="601.80" y="766.50" width="18.20" height="4.70" fill="#D9D9D9"/></g>
<path d="M602.80 494.50A5.20 5.20 0 0 1 608.00 489.30L613.80 489.30A5.20 5.20 0 0 1 619.00 494.50L619.00 592.00L617.10 596.00L619.00 600.20L619.00 783.20Q619.00 786.50 615.00 787.00Q610.90 788.60 606.80 787.00Q602.80 786.50 602.80 783.20L602.80 600.20L604.70 596.00L602.80 592.00Z" fill="none" stroke="#A6A6A6" stroke-width="2.2"/>
<path d="M603.75 592.00L618.05 592.00Q617.28 594.00 612.50 596.00Q617.28 598.10 618.05 600.20L603.75 600.20Q604.52 598.10 609.30 596.00Q604.52 594.00 603.75 592.00Z" fill="#4747E4"/>
<text x="610.5" y="808.4" font-size="15" text-anchor="middle" fill="#111">6</text>
<g clip-path="url(#k7)"><rect x="697.00" y="498.50" width="17.40" height="279.20" fill="#fff"/><rect x="697.00" y="516.00" width="17.40" height="5.60" fill="#C1C1C1"/><rect x="697.00" y="531.00" width="17.40" height="6.40" fill="#C1C1C1"/><rect x="697.00" y="545.30" width="17.40" height="6.40" fill="#D9D9D9"/><rect x="697.00" y="552.50" width="17.40" height="9.50" fill="#C1C1C1"/><rect x="697.00" y="564.30" width="17.40" height="11.10" fill="#C1C1C1"/><rect x="697.00" y="580.10" width="17.40" height="4.80" fill="#C1C1C1"/><rect x="697.00" y="588.80" width="17.40" height="4.80" fill="#C1C1C1"/><rect x="697.00" y="616.50" width="17.40" height="7.90" fill="#D9D9D9"/><rect x="697.00" y="635.50" width="17.40" height="11.00" fill="#A6A6A6"/><rect x="697.00" y="653.40" width="17.40" height="3.20" fill="#C1C1C1"/><rect x="697.00" y="660.60" width="17.40" height="7.90" fill="#C1C1C1"/><rect x="697.00" y="685.80" width="17.40" height="11.10" fill="#C1C1C1"/><rect x="697.00" y="703.20" width="17.40" height="4.80" fill="#C1C1C1"/><rect x="697.00" y="713.50" width="17.40" height="4.80" fill="#C1C1C1"/><rect x="697.00" y="728.50" width="17.40" height="7.90" fill="#D9D9D9"/><rect x="697.00" y="747.50" width="17.40" height="5.50" fill="#C1C1C1"/></g>
<path d="M698.00 504.70A5.20 5.20 0 0 1 703.20 499.50L708.20 499.50A5.20 5.20 0 0 1 713.40 504.70L713.40 600.50L711.50 603.80L713.40 607.80L713.40 772.10Q713.40 775.40 709.40 775.90Q705.70 777.50 702.00 775.90Q698.00 775.40 698.00 772.10L698.00 607.80L699.90 603.80L698.00 600.50Z" fill="none" stroke="#A6A6A6" stroke-width="2.2"/>
<path d="M698.95 600.50L712.45 600.50Q711.76 602.15 707.30 603.80Q711.76 605.80 712.45 607.80L698.95 607.80Q699.64 605.80 704.10 603.80Q699.64 602.15 698.95 600.50Z" fill="#4747E4"/>
<text x="705.3" y="798.1" font-size="15" text-anchor="middle" fill="#111">7</text>
<g clip-path="url(#k8)"><rect x="812.20" y="509.00" width="17.90" height="257.90" fill="#fff"/><rect x="812.20" y="517.40" width="17.90" height="6.30" fill="#C1C1C1"/><rect x="812.20" y="536.40" width="17.90" height="8.70" fill="#A6A6A6"/><rect x="812.20" y="553.80" width="17.90" height="5.50" fill="#D9D9D9"/><rect x="812.20" y="563.20" width="17.90" height="11.10" fill="#C1C1C1"/><rect x="812.20" y="608.30" width="17.90" height="9.50" fill="#D9D9D9"/><rect x="812.20" y="619.40" width="17.90" height="5.50" fill="#D9D9D9"/><rect x="812.20" y="639.10" width="17.90" height="7.10" fill="#A6A6A6"/><rect x="812.20" y="649.40" width="17.90" height="7.90" fill="#C1C1C1"/><rect x="812.20" y="661.30" width="17.90" height="11.00" fill="#A6A6A6"/><rect x="812.20" y="694.80" width="17.90" height="6.30" fill="#C1C1C1"/><rect x="812.20" y="705.00" width="17.90" height="8.80" fill="#A6A6A6"/><rect x="812.20" y="716.10" width="17.90" height="5.60" fill="#D9D9D9"/><rect x="812.20" y="731.10" width="17.90" height="5.60" fill="#D9D9D9"/><rect x="812.20" y="746.20" width="17.90" height="5.50" fill="#C1C1C1"/></g>
<path d="M813.20 515.20A5.20 5.20 0 0 1 818.40 510.00L823.90 510.00A5.20 5.20 0 0 1 829.10 515.20L829.10 587.00L827.20 590.90L829.10 594.90L829.10 761.30Q829.10 764.60 825.10 765.10Q821.15 766.70 817.20 765.10Q813.20 764.60 813.20 761.30L813.20 594.90L815.10 590.90L813.20 587.00Z" fill="none" stroke="#A6A6A6" stroke-width="2.2"/>
<path d="M814.15 587.00L828.15 587.00Q827.41 588.95 822.75 590.90Q827.41 592.90 828.15 594.90L814.15 594.90Q814.89 592.90 819.55 590.90Q814.89 588.95 814.15 587.00Z" fill="#4747E4"/>
<text x="820.6" y="788.1" font-size="15" text-anchor="middle" fill="#111">8</text>
<g clip-path="url(#k9)"><rect x="838.80" y="513.70" width="17.70" height="248.50" fill="#fff"/><rect x="838.80" y="533.20" width="17.70" height="7.10" fill="#C1C1C1"/><rect x="838.80" y="552.20" width="17.70" height="9.50" fill="#A6A6A6"/><rect x="838.80" y="565.60" width="17.70" height="7.90" fill="#A6A6A6"/><rect x="838.80" y="588.50" width="17.70" height="3.20" fill="#D9D9D9"/><rect x="838.80" y="643.90" width="17.70" height="7.90" fill="#D9D9D9"/><rect x="838.80" y="656.50" width="17.70" height="4.00" fill="#D9D9D9"/><rect x="838.80" y="666.00" width="17.70" height="5.00" fill="#D9D9D9"/><rect x="838.80" y="692.40" width="17.70" height="9.50" fill="#A6A6A6"/><rect x="838.80" y="718.50" width="17.70" height="7.90" fill="#C1C1C1"/><rect x="838.80" y="604.30" width="17.70" height="25.30" fill="#79C1E2"/></g>
<path d="M839.80 519.90A5.20 5.20 0 0 1 845.00 514.70L850.30 514.70A5.20 5.20 0 0 1 855.50 519.90L855.50 598.00L853.60 602.00L855.50 604.30L855.50 756.60Q855.50 759.90 851.50 760.40Q847.65 762.00 843.80 760.40Q839.80 759.90 839.80 756.60L839.80 604.30L841.70 602.00L839.80 598.00Z" fill="none" stroke="#A6A6A6" stroke-width="2.2"/>
<path d="M840.75 598.00L854.55 598.00Q853.83 600.00 849.25 602.00Q853.83 603.15 854.55 604.30L840.75 604.30Q841.47 603.15 846.05 602.00Q841.47 600.00 840.75 598.00Z" fill="#4747E4"/>
<text x="847.1" y="783.3" font-size="15" text-anchor="middle" fill="#111">9</text>
<g clip-path="url(#k10)"><rect x="923.80" y="518.30" width="18.00" height="239.90" fill="#fff"/><rect x="923.80" y="535.30" width="18.00" height="7.00" fill="#C1C1C1"/><rect x="923.80" y="553.40" width="18.00" height="7.10" fill="#C1C1C1"/><rect x="923.80" y="564.50" width="18.00" height="8.10" fill="#D9D9D9"/><rect x="923.80" y="613.00" width="18.00" height="13.20" fill="#A6A6A6"/><rect x="923.80" y="633.20" width="18.00" height="9.10" fill="#A6A6A6"/><rect x="923.80" y="651.40" width="18.00" height="3.00" fill="#D9D9D9"/><rect x="923.80" y="662.50" width="18.00" height="10.10" fill="#A6A6A6"/><rect x="923.80" y="675.70" width="18.00" height="4.00" fill="#C1C1C1"/><rect x="923.80" y="691.80" width="18.00" height="4.10" fill="#D9D9D9"/><rect x="923.80" y="703.50" width="18.00" height="9.20" fill="#A6A6A6"/><rect x="923.80" y="718.90" width="18.00" height="6.60" fill="#C1C1C1"/><rect x="923.80" y="740.40" width="18.00" height="4.00" fill="#D9D9D9"/></g>
<path d="M924.80 524.50A5.20 5.20 0 0 1 930.00 519.30L935.60 519.30A5.20 5.20 0 0 1 940.80 524.50L940.80 587.40L938.90 591.80L940.80 594.40L940.80 752.60Q940.80 755.90 936.80 756.40Q932.80 758.00 928.80 756.40Q924.80 755.90 924.80 752.60L924.80 594.40L926.70 591.80L924.80 587.40Z" fill="none" stroke="#A6A6A6" stroke-width="2.2"/>
<path d="M925.75 587.40L939.85 587.40Q939.10 589.60 934.40 591.80Q939.10 593.10 939.85 594.40L925.75 594.40Q926.50 593.10 931.20 591.80Q926.50 589.60 925.75 587.40Z" fill="#4747E4"/>
<text x="933.0" y="779.5" font-size="15" text-anchor="middle" fill="#111">10</text>
<g clip-path="url(#k11)"><rect x="1009.00" y="519.00" width="18.20" height="238.90" fill="#fff"/><rect x="1009.00" y="531.90" width="18.20" height="9.50" fill="#D9D9D9"/><rect x="1009.00" y="545.30" width="18.20" height="4.80" fill="#D9D9D9"/><rect x="1009.00" y="561.10" width="18.20" height="6.40" fill="#A6A6A6"/><rect x="1009.00" y="570.60" width="18.20" height="4.80" fill="#C1C1C1"/><rect x="1009.00" y="585.60" width="18.20" height="11.10" fill="#A6A6A6"/><rect x="1009.00" y="607.00" width="18.20" height="3.10" fill="#D9D9D9"/><rect x="1009.00" y="618.00" width="18.20" height="6.40" fill="#C1C1C1"/><rect x="1009.00" y="643.30" width="18.20" height="7.90" fill="#D9D9D9"/><rect x="1009.00" y="654.40" width="18.20" height="13.40" fill="#A6A6A6"/><rect x="1009.00" y="674.60" width="18.20" height="6.30" fill="#A6A6A6"/><rect x="1009.00" y="688.80" width="18.20" height="8.00" fill="#A6A6A6"/><rect x="1009.00" y="699.70" width="18.20" height="10.80" fill="#A6A6A6"/><rect x="1009.00" y="714.50" width="18.20" height="2.90" fill="#D9D9D9"/><rect x="1009.00" y="730.00" width="18.20" height="4.00" fill="#D9D9D9"/><rect x="1009.00" y="741.40" width="18.20" height="4.00" fill="#D9D9D9"/></g>
<path d="M1010.00 525.20A5.20 5.20 0 0 1 1015.20 520.00L1021.00 520.00A5.20 5.20 0 0 1 1026.20 525.20L1026.20 611.00L1024.30 614.10L1026.20 618.00L1026.20 752.30Q1026.20 755.60 1022.20 756.10Q1018.10 757.70 1014.00 756.10Q1010.00 755.60 1010.00 752.30L1010.00 618.00L1011.90 614.10L1010.00 611.00Z" fill="none" stroke="#A6A6A6" stroke-width="2.2"/>
<path d="M1010.95 611.00L1025.25 611.00Q1024.48 612.55 1019.70 614.10Q1024.48 616.05 1025.25 618.00L1010.95 618.00Q1011.72 616.05 1016.50 614.10Q1011.72 612.55 1010.95 611.00Z" fill="#4747E4"/>
<text x="1017.4" y="778.5" font-size="15" text-anchor="middle" fill="#111">11</text>
<g clip-path="url(#k12)"><rect x="1094.60" y="519.80" width="17.40" height="236.60" fill="#fff"/><rect x="1094.60" y="541.40" width="17.40" height="3.90" fill="#C1C1C1"/><rect x="1094.60" y="550.10" width="17.40" height="7.90" fill="#A6A6A6"/><rect x="1094.60" y="561.10" width="17.40" height="7.90" fill="#A6A6A6"/><rect x="1094.60" y="571.40" width="17.40" height="4.70" fill="#D9D9D9"/><rect x="1094.60" y="589.60" width="17.40" height="12.60" fill="#A6A6A6"/><rect x="1094.60" y="622.80" width="17.40" height="8.70" fill="#C1C1C1"/><rect x="1094.60" y="646.50" width="17.40" height="6.30" fill="#C1C1C1"/><rect x="1094.60" y="661.50" width="17.40" height="11.10" fill="#A6A6A6"/><rect x="1094.60" y="676.30" width="17.40" height="5.10" fill="#A6A6A6"/><rect x="1094.60" y="688.30" width="17.40" height="8.50" fill="#C1C1C1"/><rect x="1094.60" y="700.80" width="17.40" height="8.60" fill="#D9D9D9"/><rect x="1094.60" y="719.10" width="17.40" height="4.00" fill="#D9D9D9"/><rect x="1094.60" y="738.50" width="17.40" height="5.70" fill="#D9D9D9"/></g>
<path d="M1095.60 526.00A5.20 5.20 0 0 1 1100.80 520.80L1105.80 520.80A5.20 5.20 0 0 1 1111.00 526.00L1111.00 580.90L1109.10 585.60L1111.00 589.60L1111.00 750.80Q1111.00 754.10 1107.00 754.60Q1103.30 756.20 1099.60 754.60Q1095.60 754.10 1095.60 750.80L1095.60 589.60L1097.50 585.60L1095.60 580.90Z" fill="none" stroke="#A6A6A6" stroke-width="2.2"/>
<path d="M1096.55 580.90L1110.05 580.90Q1109.37 583.25 1104.90 585.60Q1109.37 587.60 1110.05 589.60L1096.55 589.60Q1097.23 587.60 1101.70 585.60Q1097.23 583.25 1096.55 580.90Z" fill="#4747E4"/>
<text x="1103.6" y="777.4" font-size="15" text-anchor="middle" fill="#111">12</text>
<g clip-path="url(#k13)"><rect x="48.00" y="919.80" width="18.00" height="193.70" fill="#fff"/><rect x="48.00" y="924.80" width="18.00" height="25.20" fill="#79C1E2"/><rect x="48.00" y="932.00" width="18.00" height="9.00" fill="#8CDDF6"/><rect x="48.00" y="976.00" width="18.00" height="3.00" fill="#D9D9D9"/><rect x="48.00" y="983.00" width="18.00" height="5.00" fill="#C1C1C1"/><rect x="48.00" y="1001.00" width="18.00" height="5.00" fill="#D9D9D9"/><rect x="48.00" y="1013.00" width="18.00" height="6.00" fill="#A6A6A6"/><rect x="48.00" y="1025.00" width="18.00" height="5.00" fill="#C1C1C1"/><rect x="48.00" y="1035.00" width="18.00" height="7.00" fill="#A6A6A6"/><rect x="48.00" y="1051.00" width="18.00" height="13.00" fill="#A6A6A6"/><rect x="48.00" y="1069.00" width="18.00" height="7.00" fill="#A6A6A6"/><rect x="48.00" y="1087.00" width="18.00" height="4.00" fill="#C1C1C1"/><rect x="48.00" y="1096.00" width="18.00" height="4.00" fill="#A6A6A6"/></g>
<path d="M49.00 926.00A5.20 5.20 0 0 1 54.20 920.80L59.80 920.80A5.20 5.20 0 0 1 65.00 926.00L65.00 950.00L63.10 952.50L65.00 956.00L65.00 1107.90Q65.00 1111.20 61.00 1111.70Q57.00 1113.30 53.00 1111.70Q49.00 1111.20 49.00 1107.90L49.00 956.00L50.90 952.50L49.00 950.00Z" fill="none" stroke="#A6A6A6" stroke-width="2.2"/>
<path d="M49.95 950.00L64.05 950.00Q63.30 951.25 58.60 952.50Q63.30 954.25 64.05 956.00L49.95 956.00Q50.70 954.25 55.40 952.50Q50.70 951.25 49.95 950.00Z" fill="#4747E4"/>
<text x="57.0" y="1134.3" font-size="15" text-anchor="middle" fill="#111">13</text>
<g clip-path="url(#k14)"><rect x="152.40" y="926.80" width="17.80" height="180.70" fill="#fff"/><rect x="152.40" y="931.80" width="17.80" height="25.20" fill="#79C1E2"/><rect x="152.40" y="936.00" width="17.80" height="9.00" fill="#8CDDF6"/><rect x="152.40" y="971.00" width="17.80" height="13.00" fill="#A6A6A6"/><rect x="152.40" y="992.00" width="17.80" height="8.00" fill="#A6A6A6"/><rect x="152.40" y="1007.00" width="17.80" height="5.00" fill="#A6A6A6"/><rect x="152.40" y="1025.00" width="17.80" height="5.00" fill="#C1C1C1"/><rect x="152.40" y="1044.00" width="17.80" height="6.00" fill="#D9D9D9"/><rect x="152.40" y="1058.00" width="17.80" height="6.00" fill="#A6A6A6"/><rect x="152.40" y="1067.00" width="17.80" height="7.00" fill="#A6A6A6"/><rect x="152.40" y="1086.00" width="17.80" height="7.00" fill="#D9D9D9"/></g>
<path d="M153.40 933.00A5.20 5.20 0 0 1 158.60 927.80L164.00 927.80A5.20 5.20 0 0 1 169.20 933.00L169.20 957.00L167.30 959.00L169.20 961.50L169.20 1101.90Q169.20 1105.20 165.20 1105.70Q161.30 1107.30 157.40 1105.70Q153.40 1105.20 153.40 1101.90L153.40 961.50L155.30 959.00L153.40 957.00Z" fill="none" stroke="#A6A6A6" stroke-width="2.2"/>
<path d="M154.35 957.00L168.25 957.00Q167.52 958.00 162.90 959.00Q167.52 960.25 168.25 961.50L154.35 961.50Q155.08 960.25 159.70 959.00Q155.08 958.00 154.35 957.00Z" fill="#4747E4"/>
<text x="161.2" y="1127.3" font-size="15" text-anchor="middle" fill="#111">14</text>
<g clip-path="url(#k15)"><rect x="257.20" y="930.80" width="17.80" height="172.80" fill="#fff"/><rect x="257.20" y="935.80" width="17.80" height="25.20" fill="#79C1E2"/><rect x="257.20" y="940.00" width="17.80" height="9.00" fill="#8CDDF6"/><rect x="257.20" y="989.00" width="17.80" height="9.00" fill="#C1C1C1"/><rect x="257.20" y="1007.00" width="17.80" height="6.00" fill="#C1C1C1"/><rect x="257.20" y="1020.00" width="17.80" height="9.00" fill="#C1C1C1"/><rect x="257.20" y="1060.00" width="17.80" height="5.00" fill="#D9D9D9"/><rect x="257.20" y="1071.00" width="17.80" height="5.00" fill="#D9D9D9"/><rect x="257.20" y="1086.00" width="17.80" height="6.00" fill="#D9D9D9"/></g>
<path d="M258.20 937.00A5.20 5.20 0 0 1 263.40 931.80L268.80 931.80A5.20 5.20 0 0 1 274.00 937.00L274.00 961.00L272.10 964.00L274.00 968.00L274.00 1098.00Q274.00 1101.30 270.00 1101.80Q266.10 1103.40 262.20 1101.80Q258.20 1101.30 258.20 1098.00L258.20 968.00L260.10 964.00L258.20 961.00Z" fill="none" stroke="#A6A6A6" stroke-width="2.2"/>
<path d="M259.15 961.00L273.05 961.00Q272.32 962.50 267.70 964.00Q272.32 966.00 273.05 968.00L259.15 968.00Q259.88 966.00 264.50 964.00Q259.88 962.50 259.15 961.00Z" fill="#4747E4"/>
<text x="266.2" y="1124.4" font-size="15" text-anchor="middle" fill="#111">15</text>
<g clip-path="url(#k16)"><rect x="382.20" y="940.60" width="17.80" height="153.80" fill="#fff"/><rect x="382.20" y="957.70" width="17.80" height="3.10" fill="#D9D9D9"/><rect x="382.20" y="971.90" width="17.80" height="7.10" fill="#D9D9D9"/><rect x="382.20" y="982.20" width="17.80" height="5.50" fill="#D9D9D9"/><rect x="382.20" y="1028.00" width="17.80" height="7.10" fill="#D9D9D9"/><rect x="382.20" y="1037.50" width="17.80" height="12.70" fill="#A6A6A6"/><rect x="382.20" y="1063.60" width="17.80" height="7.10" fill="#C1C1C1"/><rect x="382.20" y="1076.20" width="17.80" height="3.20" fill="#D9D9D9"/><rect x="382.20" y="1006.70" width="17.80" height="12.60" fill="#79C1E2"/></g>
<path d="M383.20 946.80A5.20 5.20 0 0 1 388.40 941.60L393.80 941.60A5.20 5.20 0 0 1 399.00 946.80L399.00 999.60L397.10 1002.70L399.00 1006.70L399.00 1088.80Q399.00 1092.10 395.00 1092.60Q391.10 1094.20 387.20 1092.60Q383.20 1092.10 383.20 1088.80L383.20 1006.70L385.10 1002.70L383.20 999.60Z" fill="none" stroke="#A6A6A6" stroke-width="2.2"/>
<path d="M384.15 999.60L398.05 999.60Q397.32 1001.15 392.70 1002.70Q397.32 1004.70 398.05 1006.70L384.15 1006.70Q384.88 1004.70 389.50 1002.70Q384.88 1001.15 384.15 999.60Z" fill="#4747E4"/>
<text x="391.1" y="1115.0" font-size="15" text-anchor="middle" fill="#111">16</text>
<g clip-path="url(#k17)"><rect x="477.20" y="947.50" width="17.60" height="139.20" fill="#fff"/><rect x="477.20" y="957.60" width="17.60" height="4.90" fill="#D9D9D9"/><rect x="477.20" y="969.50" width="17.60" height="9.90" fill="#C1C1C1"/><rect x="477.20" y="1003.30" width="17.60" height="9.80" fill="#D9D9D9"/><rect x="477.20" y="1033.50" width="17.60" height="9.10" fill="#C1C1C1"/><rect x="477.20" y="1044.00" width="17.60" height="5.00" fill="#C1C1C1"/><rect x="477.20" y="1059.50" width="17.60" height="4.90" fill="#C1C1C1"/></g>
<path d="M478.20 953.70A5.20 5.20 0 0 1 483.40 948.50L488.60 948.50A5.20 5.20 0 0 1 493.80 953.70L493.80 987.80L491.90 990.60L493.80 992.70L493.80 1081.10Q493.80 1084.40 489.80 1084.90Q486.00 1086.50 482.20 1084.90Q478.20 1084.40 478.20 1081.10L478.20 992.70L480.10 990.60L478.20 987.80Z" fill="none" stroke="#A6A6A6" stroke-width="2.2"/>
<path d="M479.15 987.80L492.85 987.80Q492.14 989.20 487.60 990.60Q492.14 991.65 492.85 992.70L479.15 992.70Q479.86 991.65 484.40 990.60Q479.86 989.20 479.15 987.80Z" fill="#4747E4"/>
<text x="485.9" y="1107.8" font-size="15" text-anchor="middle" fill="#111">17</text>
<g clip-path="url(#k18)"><rect x="601.70" y="950.10" width="17.90" height="134.30" fill="#fff"/><rect x="601.70" y="959.80" width="17.90" height="5.50" fill="#D9D9D9"/><rect x="601.70" y="994.50" width="17.90" height="11.90" fill="#A6A6A6"/><rect x="601.70" y="1015.10" width="17.90" height="8.70" fill="#C1C1C1"/><rect x="601.70" y="1032.50" width="17.90" height="7.90" fill="#C1C1C1"/><rect x="601.70" y="1044.30" width="17.90" height="4.80" fill="#D9D9D9"/><rect x="601.70" y="1053.00" width="17.90" height="8.00" fill="#A6A6A6"/></g>
<path d="M602.70 956.30A5.20 5.20 0 0 1 607.90 951.10L613.40 951.10A5.20 5.20 0 0 1 618.60 956.30L618.60 978.70L616.70 981.90L618.60 985.10L618.60 1078.80Q618.60 1082.10 614.60 1082.60Q610.65 1084.20 606.70 1082.60Q602.70 1082.10 602.70 1078.80L602.70 985.10L604.60 981.90L602.70 978.70Z" fill="none" stroke="#A6A6A6" stroke-width="2.2"/>
<path d="M603.65 978.70L617.65 978.70Q616.91 980.30 612.25 981.90Q616.91 983.50 617.65 985.10L603.65 985.10Q604.39 983.50 609.05 981.90Q604.39 980.30 603.65 978.70Z" fill="#4747E4"/>
<text x="610.8" y="1104.4" font-size="15" text-anchor="middle" fill="#111">18</text>
<g clip-path="url(#k19)"><rect x="696.70" y="965.40" width="18.20" height="103.40" fill="#fff"/><rect x="696.70" y="981.00" width="18.20" height="8.50" fill="#EEEEEE"/><rect x="696.70" y="1002.10" width="18.20" height="6.60" fill="#79C1E2"/><rect x="696.70" y="1015.30" width="18.20" height="6.50" fill="#79C1E2"/></g>
<path d="M697.70 971.60A5.20 5.20 0 0 1 702.90 966.40L708.70 966.40A5.20 5.20 0 0 1 713.90 971.60L713.90 1008.70L712.00 1012.00L713.90 1015.30L713.90 1063.20Q713.90 1066.50 709.90 1067.00Q705.80 1068.60 701.70 1067.00Q697.70 1066.50 697.70 1063.20L697.70 1015.30L699.60 1012.00L697.70 1008.70Z" fill="none" stroke="#A6A6A6" stroke-width="2.2"/>
<path d="M698.65 1008.70L712.95 1008.70Q712.18 1010.35 707.40 1012.00Q712.18 1013.65 712.95 1015.30L698.65 1015.30Q699.42 1013.65 704.20 1012.00Q699.42 1010.35 698.65 1008.70Z" fill="#4747E4"/>
<text x="706.0" y="1089.0" font-size="15" text-anchor="middle" fill="#111">19</text>
<g clip-path="url(#k20)"><rect x="812.10" y="962.30" width="17.60" height="108.50" fill="#fff"/><rect x="812.10" y="975.00" width="17.60" height="6.00" fill="#C1C1C1"/><rect x="812.10" y="986.90" width="17.60" height="7.30" fill="#C1C1C1"/><rect x="812.10" y="1027.10" width="17.60" height="5.90" fill="#C1C1C1"/><rect x="812.10" y="1047.50" width="17.60" height="6.60" fill="#C1C1C1"/><rect x="812.10" y="1057.40" width="17.60" height="2.00" fill="#D9D9D9"/></g>
<path d="M813.10 968.50A5.20 5.20 0 0 1 818.30 963.30L823.50 963.30A5.20 5.20 0 0 1 828.70 968.50L828.70 1007.30L826.80 1010.90L828.70 1013.90L828.70 1065.20Q828.70 1068.50 824.70 1069.00Q820.90 1070.60 817.10 1069.00Q813.10 1068.50 813.10 1065.20L813.10 1013.90L815.00 1010.90L813.10 1007.30Z" fill="none" stroke="#A6A6A6" stroke-width="2.2"/>
<path d="M814.05 1007.30L827.75 1007.30Q827.04 1009.10 822.50 1010.90Q827.04 1012.40 827.75 1013.90L814.05 1013.90Q814.76 1012.40 819.30 1010.90Q814.76 1009.10 814.05 1007.30Z" fill="#4747E4"/>
<text x="820.4" y="1092.3" font-size="15" text-anchor="middle" fill="#111">20</text>
<g clip-path="url(#k21)"><rect x="838.50" y="974.20" width="18.60" height="85.40" fill="#fff"/><rect x="838.50" y="979.20" width="18.60" height="16.30" fill="#79C1E2"/><rect x="838.50" y="982.30" width="18.60" height="6.60" fill="#8CDDF6"/><rect x="838.50" y="1004.70" width="18.60" height="11.90" fill="#A6A6A6"/><rect x="838.50" y="1021.80" width="18.60" height="6.60" fill="#C1C1C1"/><rect x="838.50" y="1035.70" width="18.60" height="2.60" fill="#D9D9D9"/><rect x="838.50" y="1042.30" width="18.60" height="3.30" fill="#D9D9D9"/></g>
<path d="M839.50 980.40A5.20 5.20 0 0 1 844.70 975.20L850.90 975.20A5.20 5.20 0 0 1 856.10 980.40L856.10 995.50L854.20 998.80L856.10 1001.40L856.10 1054.00Q856.10 1057.30 852.10 1057.80Q847.80 1059.40 843.50 1057.80Q839.50 1057.30 839.50 1054.00L839.50 1001.40L841.40 998.80L839.50 995.50Z" fill="none" stroke="#A6A6A6" stroke-width="2.2"/>
<path d="M840.45 995.50L855.15 995.50Q854.33 997.15 849.40 998.80Q854.33 1000.10 855.15 1001.40L840.45 1001.40Q841.27 1000.10 846.20 998.80Q841.27 997.15 840.45 995.50Z" fill="#4747E4"/>
<text x="846.1" y="1080.5" font-size="15" text-anchor="middle" fill="#111">21</text>
<g clip-path="url(#k22)"><rect x="923.60" y="971.50" width="18.00" height="90.90" fill="#fff"/><rect x="923.60" y="976.50" width="18.00" height="19.80" fill="#79C1E2"/><rect x="923.60" y="980.30" width="18.00" height="9.20" fill="#8CDDF6"/><rect x="923.60" y="1017.80" width="18.00" height="5.00" fill="#D9D9D9"/><rect x="923.60" y="1028.30" width="18.00" height="4.30" fill="#D9D9D9"/><rect x="923.60" y="1041.20" width="18.00" height="5.00" fill="#D9D9D9"/></g>
<path d="M924.60 977.70A5.20 5.20 0 0 1 929.80 972.50L935.40 972.50A5.20 5.20 0 0 1 940.60 977.70L940.60 996.30L938.70 1000.00L940.60 1004.30L940.60 1056.80Q940.60 1060.10 936.60 1060.60Q932.60 1062.20 928.60 1060.60Q924.60 1060.10 924.60 1056.80L924.60 1004.30L926.50 1000.00L924.60 996.30Z" fill="none" stroke="#A6A6A6" stroke-width="2.2"/>
<path d="M925.55 996.30L939.65 996.30Q938.90 998.15 934.20 1000.00Q938.90 1002.15 939.65 1004.30L925.55 1004.30Q926.30 1002.15 931.00 1000.00Q926.30 998.15 925.55 996.30Z" fill="#4747E4"/>
<text x="932.6" y="1083.0" font-size="15" text-anchor="middle" fill="#111">22</text>
<path d="M49.20 691.20H65.00L80.70 681.20M49.20 691.20H65.00L80.70 701.70M49.20 691.20H65.00L80.70 723.20M49.20 691.20H65.00L80.70 744.40M49.20 794.70H65.00L80.70 765.70M258.80 603.00H273.30L289.80 536.90M258.80 661.40H273.30L289.80 604.80M258.80 661.40H273.30L289.80 621.50M258.80 661.40H273.30L289.80 638.30M258.80 661.40H273.30L289.80 655.20M478.50 723.20H493.40L509.50 669.00M603.20 678.70H618.60L634.60 667.70M603.20 734.90H618.60L634.60 725.80M603.20 775.70H618.60L634.60 775.20M698.40 505.00H713.00L729.50 503.40M698.40 522.40H713.00L729.50 536.20M698.40 563.00H713.00L729.50 557.20M698.40 646.50H713.00L729.50 611.40M698.40 759.40H713.00L729.50 719.80M698.40 766.20H713.00L729.50 745.10M840.20 679.00H855.10L871.50 662.00M840.20 709.30H855.10L871.50 709.00M1010.40 530.00H1025.80L1041.90 523.50M1010.40 634.30H1025.80L1041.90 615.20M1096.00 726.30H1110.60L1127.40 706.60M153.80 970.00H168.80L185.50 965.70M258.60 970.10H273.60L289.70 968.10M383.60 950.20H398.60L414.70 945.00M383.60 981.40H398.60L414.70 971.40M383.60 988.50H398.60L414.70 981.70M383.60 988.50H398.60L414.70 992.50M383.60 992.50H398.60L414.70 1003.00M478.60 983.60H493.40L509.90 963.60M478.60 983.60H493.40L509.90 973.70M478.60 983.60H493.40L509.90 984.70M478.60 983.60H493.40L509.90 995.50M478.60 983.60H493.40L509.90 1005.80M478.60 983.60H493.40L509.90 1016.60M478.60 983.60H493.40L509.90 1027.20M478.60 983.60H493.40L509.90 1037.70M698.10 995.50H713.50L729.40 984.90M698.10 1037.30H713.50L729.40 1017.20M698.10 1037.30H713.50L729.40 1028.00M698.10 1037.30H713.50L729.40 1038.60M925.00 1033.80H940.20L956.60 1025.20M925.00 1057.50H940.20L956.60 1041.80" fill="none" stroke="#222" stroke-width="0.9"/>
<circle cx="80.70" cy="681.20" r="5.4" fill="#1A00FF" stroke="#000050" stroke-width="0.8"/>
<text x="91.3" y="685.4" font-size="11.45" fill="#111">RIT1</text>
<circle cx="80.70" cy="701.70" r="5.4" fill="#1A00FF" stroke="#000050" stroke-width="0.8"/>
<text x="91.3" y="705.9" font-size="11.45" fill="#111">KHDC4</text>
<circle cx="80.70" cy="723.20" r="5.4" fill="#1A00FF" stroke="#000050" stroke-width="0.8"/>
<text x="91.3" y="727.4" font-size="11.45" fill="#111">RXFP4</text>
<circle cx="80.70" cy="744.40" r="5.4" fill="#1A00FF" stroke="#000050" stroke-width="0.8"/>
<text x="91.3" y="748.6" font-size="11.45" fill="#111">ARHGEF2</text>
<circle cx="80.70" cy="765.70" r="5.4" fill="#1A00FF" stroke="#000050" stroke-width="0.8"/>
<text x="91.3" y="769.9" font-size="11.45" fill="#111">ESRRG</text>
<circle cx="289.80" cy="536.90" r="5.4" fill="#40FF12" stroke="#1E7A1E" stroke-width="0.8"/>
<text x="301.0" y="541.1" font-size="11.45" fill="#111">ROBO1</text>
<path d="M284.50 604.80L289.80 599.40L295.10 604.80L289.80 610.20Z" fill="#FF1C0C" stroke="#111" stroke-width="0.7"/>
<path d="M295.30 604.80L300.60 599.40L305.90 604.80L300.60 610.20Z" fill="#1600FF" stroke="#111" stroke-width="0.7"/>
<text x="311.5" y="609.0" font-size="11.45" fill="#111">CD200R1L</text>
<path d="M284.50 621.50L289.80 616.10L295.10 621.50L289.80 626.90Z" fill="#FF1C0C" stroke="#111" stroke-width="0.7"/>
<path d="M295.30 621.50L300.60 616.10L305.90 621.50L300.60 626.90Z" fill="#1600FF" stroke="#111" stroke-width="0.7"/>
<text x="311.5" y="625.7" font-size="11.45" fill="#111">CD200R1</text>
<path d="M284.50 638.30L289.80 632.90L295.10 638.30L289.80 643.70Z" fill="#FF1C0C" stroke="#111" stroke-width="0.7"/>
<path d="M295.30 638.30L300.60 632.90L305.90 638.30L300.60 643.70Z" fill="#1600FF" stroke="#111" stroke-width="0.7"/>
<text x="311.5" y="642.5" font-size="11.45" fill="#111">GTPBP8</text>
<path d="M284.50 655.20L289.80 649.80L295.10 655.20L289.80 660.60Z" fill="#FF1C0C" stroke="#111" stroke-width="0.7"/>
<path d="M295.30 655.20L300.60 649.80L305.90 655.20L300.60 660.60Z" fill="#1600FF" stroke="#111" stroke-width="0.7"/>
<text x="311.5" y="659.4" font-size="11.45" fill="#111">NEPRO</text>
<circle cx="509.50" cy="669.00" r="5.4" fill="#1A00FF" stroke="#000050" stroke-width="0.8"/>
<text x="520.1" y="673.2" font-size="11.45" fill="#111">PCDHB1</text>
<circle cx="634.60" cy="667.70" r="5.4" fill="#1A00FF" stroke="#000050" stroke-width="0.8"/>
<text x="645.2" y="671.9" font-size="11.45" fill="#111">ZBTB24</text>
<circle cx="634.60" cy="725.80" r="5.4" fill="#1A00FF" stroke="#000050" stroke-width="0.8"/>
<text x="645.2" y="730.0" font-size="11.45" fill="#111">GJE1</text>
<circle cx="634.60" cy="775.20" r="5.4" fill="#1A00FF" stroke="#000050" stroke-width="0.8"/>
<text x="645.2" y="779.4" font-size="11.45" fill="#111">PRR18</text>
<circle cx="729.50" cy="503.40" r="5.4" fill="#1A00FF" stroke="#000050" stroke-width="0.8"/>
<text x="740.1" y="507.6" font-size="11.45" fill="#111">MICALL2</text>
<path d="M724.20 536.20L729.50 530.80L734.80 536.20L729.50 541.60Z" fill="#0A0A30" stroke="#111" stroke-width="0.7"/>
<path d="M735.00 536.20L740.30 530.80L745.60 536.20L740.30 541.60Z" fill="#1600FF" stroke="#111" stroke-width="0.7"/>
<text x="751.1" y="540.4" font-size="11.45" fill="#111">THSD7A</text>
<circle cx="729.50" cy="557.20" r="5.4" fill="#1A00FF" stroke="#000050" stroke-width="0.8"/>
<text x="740.1" y="561.4" font-size="11.45" fill="#111">TBX20</text>
<circle cx="729.50" cy="611.40" r="5.4" fill="#1A00FF" stroke="#000050" stroke-width="0.8"/>
<text x="740.1" y="615.6" font-size="11.45" fill="#111">SEMA3D</text>
<circle cx="729.50" cy="719.80" r="5.4" fill="#1A00FF" stroke="#000050" stroke-width="0.8"/>
<text x="740.1" y="724.0" font-size="11.45" fill="#111">ABCB8</text>
<circle cx="729.50" cy="745.10" r="5.4" fill="#1A00FF" stroke="#000050" stroke-width="0.8"/>
<text x="740.1" y="749.3" font-size="11.45" fill="#111">PAXIP1</text>
<circle cx="871.50" cy="662.00" r="5.4" fill="#1A00FF" stroke="#000050" stroke-width="0.8"/>
<text x="882.2" y="666.2" font-size="11.45" fill="#111">ROR2</text>
<circle cx="871.50" cy="709.00" r="5.4" fill="#1A00FF" stroke="#000050" stroke-width="0.8"/>
<text x="882.2" y="713.2" font-size="11.45" fill="#111">PALM2</text>
<circle cx="1041.90" cy="523.50" r="5.4" fill="#1A00FF" stroke="#000050" stroke-width="0.8"/>
<text x="1053.2" y="527.7" font-size="11.45" fill="#111">RRM1</text>
<circle cx="1041.90" cy="615.20" r="5.4" fill="#1A00FF" stroke="#000050" stroke-width="0.8"/>
<text x="1053.2" y="619.4" font-size="11.45" fill="#111">BATF2</text>
<circle cx="1127.40" cy="706.60" r="5.4" fill="#1A00FF" stroke="#000050" stroke-width="0.8"/>
<text x="1138.1" y="710.8" font-size="11.45" fill="#111">SUDS3</text>
<circle cx="185.50" cy="965.70" r="5.4" fill="#1A00FF" stroke="#000050" stroke-width="0.8"/>
<text x="196.1" y="969.9" font-size="11.45" fill="#111">SDR39U1</text>
<circle cx="289.70" cy="968.10" r="5.4" fill="#1A00FF" stroke="#000050" stroke-width="0.8"/>
<text x="300.3" y="972.3" font-size="11.45" fill="#111">NIPA2</text>
<circle cx="414.70" cy="945.00" r="5.4" fill="#1A00FF" stroke="#000050" stroke-width="0.8"/>
<text x="425.3" y="949.2" font-size="11.45" fill="#111">DNASE1</text>
<circle cx="414.70" cy="971.40" r="5.4" fill="#1A00FF" stroke="#000050" stroke-width="0.8"/>
<text x="425.3" y="975.6" font-size="11.45" fill="#111">SCNN1B</text>
<circle cx="414.70" cy="981.70" r="5.4" fill="#1A00FF" stroke="#000050" stroke-width="0.8"/>
<text x="425.3" y="985.9" font-size="11.45" fill="#111">NSMCE1</text>
<circle cx="414.70" cy="992.50" r="5.4" fill="#1A00FF" stroke="#000050" stroke-width="0.8"/>
<text x="425.3" y="996.7" font-size="11.45" fill="#111">ASPHD1</text>
<circle cx="414.70" cy="1003.00" r="5.4" fill="#1A00FF" stroke="#000050" stroke-width="0.8"/>
<text x="425.3" y="1007.2" font-size="11.45" fill="#111">KCTD13</text>
<path d="M504.60 963.60L509.90 958.20L515.20 963.60L509.90 969.00Z" fill="#FF1C0C" stroke="#111" stroke-width="0.7"/>
<path d="M515.40 963.60L520.70 958.20L526.00 963.60L520.70 969.00Z" fill="#1600FF" stroke="#111" stroke-width="0.7"/>
<text x="531.0" y="967.8" font-size="11.45" fill="#111">CCDC144A</text>
<path d="M504.60 973.70L509.90 968.30L515.20 973.70L509.90 979.10Z" fill="#FF1C0C" stroke="#111" stroke-width="0.7"/>
<path d="M515.40 973.70L520.70 968.30L526.00 973.70L520.70 979.10Z" fill="#1600FF" stroke="#111" stroke-width="0.7"/>
<text x="531.0" y="977.9" font-size="11.45" fill="#111">SLC47A1</text>
<path d="M504.60 984.70L509.90 979.30L515.20 984.70L509.90 990.10Z" fill="#FF1C0C" stroke="#111" stroke-width="0.7"/>
<path d="M515.40 984.70L520.70 979.30L526.00 984.70L520.70 990.10Z" fill="#1600FF" stroke="#111" stroke-width="0.7"/>
<text x="531.0" y="988.9" font-size="11.45" fill="#111">ALDH3A2</text>
<path d="M504.60 995.50L509.90 990.10L515.20 995.50L509.90 1000.90Z" fill="#0A0A30" stroke="#111" stroke-width="0.7"/>
<path d="M515.40 995.50L520.70 990.10L526.00 995.50L520.70 1000.90Z" fill="#1600FF" stroke="#111" stroke-width="0.7"/>
<text x="531.0" y="999.7" font-size="11.45" fill="#111">SLC47A2</text>
<path d="M504.60 1005.80L509.90 1000.40L515.20 1005.80L509.90 1011.20Z" fill="#0A0A30" stroke="#111" stroke-width="0.7"/>
<path d="M515.40 1005.80L520.70 1000.40L526.00 1005.80L520.70 1011.20Z" fill="#1600FF" stroke="#111" stroke-width="0.7"/>
<text x="531.0" y="1010.0" font-size="11.45" fill="#111">ULK2</text>
<path d="M504.60 1016.60L509.90 1011.20L515.20 1016.60L509.90 1022.00Z" fill="#FF1C0C" stroke="#111" stroke-width="0.7"/>
<path d="M515.40 1016.60L520.70 1011.20L526.00 1016.60L520.70 1022.00Z" fill="#1600FF" stroke="#111" stroke-width="0.7"/>
<text x="531.0" y="1020.8" font-size="11.45" fill="#111">AKAP10</text>
<path d="M504.60 1027.20L509.90 1021.80L515.20 1027.20L509.90 1032.60Z" fill="#FF1C0C" stroke="#111" stroke-width="0.7"/>
<path d="M515.40 1027.20L520.70 1021.80L526.00 1027.20L520.70 1032.60Z" fill="#1600FF" stroke="#111" stroke-width="0.7"/>
<text x="531.0" y="1031.4" font-size="11.45" fill="#111">SPECC1</text>
<path d="M504.60 1037.70L509.90 1032.30L515.20 1037.70L509.90 1043.10Z" fill="#FF1C0C" stroke="#111" stroke-width="0.7"/>
<path d="M515.40 1037.70L520.70 1032.30L526.00 1037.70L520.70 1043.10Z" fill="#1600FF" stroke="#111" stroke-width="0.7"/>
<text x="531.0" y="1041.9" font-size="11.45" fill="#111">LGALS9B</text>
<circle cx="729.40" cy="984.90" r="5.4" fill="#40FF12" stroke="#1E7A1E" stroke-width="0.8"/>
<text x="740.4" y="989.1" font-size="11.45" fill="#111">CIB3</text>
<circle cx="729.40" cy="1017.20" r="5.4" fill="#1A00FF" stroke="#000050" stroke-width="0.8"/>
<text x="740.4" y="1021.4" font-size="11.45" fill="#111">CEACAM6</text>
<circle cx="729.40" cy="1028.00" r="5.4" fill="#40FF12" stroke="#1E7A1E" stroke-width="0.8"/>
<text x="740.4" y="1032.2" font-size="11.45" fill="#111">LYPD4</text>
<circle cx="729.40" cy="1038.60" r="5.4" fill="#1A00FF" stroke="#000050" stroke-width="0.8"/>
<text x="740.4" y="1042.8" font-size="11.45" fill="#111">DMRTC2</text>
<circle cx="956.60" cy="1025.20" r="5.4" fill="#1A00FF" stroke="#000050" stroke-width="0.8"/>
<text x="967.1" y="1029.4" font-size="11.45" fill="#111">MB</text>
<circle cx="956.60" cy="1041.80" r="5.4" fill="#1A00FF" stroke="#000050" stroke-width="0.8"/>
<text x="967.1" y="1046.0" font-size="11.45" fill="#111">PANX2</text>
<rect x="1024" y="832.5" width="206" height="220.5" fill="#fff" stroke="#000" stroke-width="2"/>
<circle cx="1039.1" cy="849.9" r="5.5" fill="none" stroke="#555" stroke-width="1"/>
<text x="1057.4" y="855.5" font-size="16.5" fill="#111">Gene meta-analysis</text>
<path d="M1033.4 882.6L1039.1 876.9L1044.8 882.6L1039.1 888.3Z" fill="none" stroke="#555" stroke-width="1"/>
<text x="1058.9" y="888.3" font-size="16.5" fill="#111">Variant meta-analysis</text>
<rect x="1066.6" y="927.1" width="11.3" height="11.3" fill="#40FF12" stroke="#333" stroke-width="0.5"/>
<text x="1087.6" y="938.6" font-size="16.5" fill="#111">Genome-wide</text>
<rect x="1066.6" y="961.4" width="11.3" height="11.3" fill="#1600FF" stroke="#333" stroke-width="0.5"/>
<text x="1087.6" y="972.8" font-size="16.5" fill="#111">Suggestive</text>
<rect x="1066.6" y="995.2" width="11.3" height="11.3" fill="#05052E" stroke="#333" stroke-width="0.5"/>
<text x="1087.6" y="1006.7" font-size="16.5" fill="#111">Mapped</text>
<rect x="1066.6" y="1029.3" width="11.3" height="11.3" fill="#FF1C0C" stroke="#333" stroke-width="0.5"/>
<text x="1087.6" y="1040.8" font-size="16.5" fill="#111">eGene</text>
<text x="5.2" y="436.8" font-size="39.5" font-weight="bold" fill="#000">D</text>
</svg></body></html>
